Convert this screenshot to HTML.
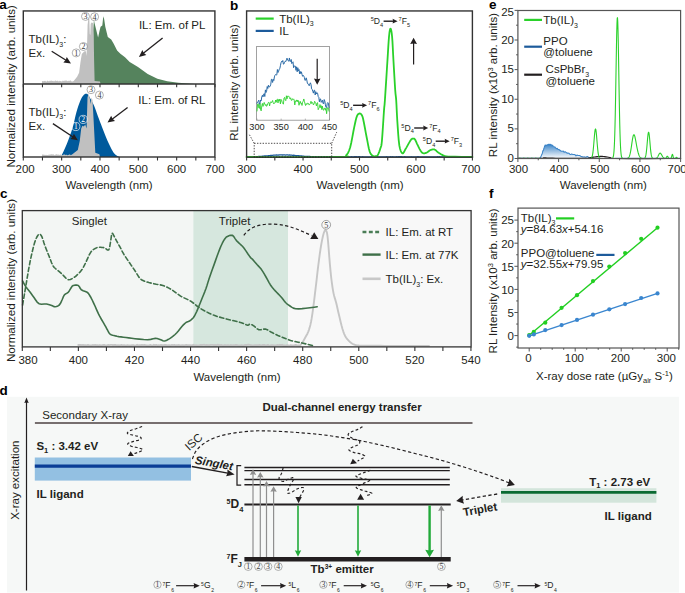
<!DOCTYPE html>
<html><head><meta charset="utf-8"><style>
html,body{margin:0;padding:0;background:#fff;}
body{width:685px;height:593px;overflow:hidden;}
svg{display:block;font-family:"Liberation Sans", sans-serif;}
</style></head><body>
<svg width="685" height="593" viewBox="0 0 685 593">
<polygon points="92.60,84.00 93.20,30.00 93.90,20.50 96.00,29.00 98.10,37.40 99.50,31.00 100.60,26.80 102.30,25.60 103.00,19.00 103.60,16.30 104.30,20.00 105.30,26.80 107.80,37.00 111.20,39.50 113.70,43.70 117.10,50.40 120.40,53.80 125.00,57.20 129.70,61.90 138.00,67.00 147.70,74.00 157.40,78.80 167.20,81.30 178.30,82.70 194.90,83.90 197.00,84.00" fill="#55835d" />
<polygon points="42.00,84.00 42.00,81.31 42.80,80.95 43.60,81.16 44.40,80.88 45.20,80.85 46.00,81.52 46.80,81.58 47.60,80.60 48.40,81.29 49.20,81.32 50.00,80.41 50.80,81.04 51.60,80.60 52.40,81.03 53.20,80.83 54.00,81.42 54.80,80.84 55.60,80.56 56.40,80.97 57.20,80.71 58.00,80.79 58.80,81.52 59.60,80.69 60.40,80.89 61.20,81.24 62.00,81.56 62.80,80.56 63.60,81.03 64.40,80.74 65.20,80.55 66.00,80.74 66.80,80.49 67.60,81.13 68.40,80.64 69.20,81.07 70.00,80.48 70.80,80.55 71.60,81.48 72.40,81.44 73.70,80.90 77.10,76.80 79.10,72.80 80.50,62.00 81.80,53.90 83.20,52.50 84.50,51.20 85.90,51.20 86.50,55.90 87.20,40.00 87.60,25.00 88.40,18.40 89.30,19.00 89.80,34.00 90.30,35.00 90.70,24.00 91.50,22.60 93.00,23.00 93.70,35.00 94.10,60.00 94.60,80.90 100.00,81.50 100.50,84.00" fill="#c0c0c0" />
<polygon points="60.90,157.00 62.01,154.59 63.61,151.13 65.38,147.21 67.00,143.40 68.43,139.80 69.83,136.11 71.16,132.35 72.40,128.50 73.50,124.45 74.48,120.22 75.43,116.09 76.40,112.30 77.43,108.83 78.49,105.57 79.52,102.66 80.50,100.20 81.42,98.28 82.29,96.81 83.12,95.69 83.90,94.80 84.64,94.15 85.34,93.80 85.99,93.67 86.60,93.70 87.07,93.75 87.43,93.90 87.88,94.40 88.60,95.50 89.74,97.42 91.17,99.99 92.67,102.83 94.00,105.60 95.10,108.25 96.08,110.96 97.03,113.68 98.00,116.40 98.99,119.04 99.96,121.63 100.98,124.31 102.10,127.20 103.36,130.45 104.72,133.95 106.12,137.45 107.50,140.70 108.90,143.76 110.34,146.72 111.71,149.38 112.90,151.50 113.83,152.92 114.56,153.80 115.24,154.40 116.00,155.00 116.95,155.65 117.99,156.22 118.94,156.68 119.60,157.00" fill="#005a9c" />
<polygon points="42.00,157.00 42.00,155.08 42.80,154.33 43.60,154.86 44.40,154.67 45.20,155.00 46.00,154.79 46.80,154.91 47.60,154.95 48.40,154.71 49.20,154.72 50.00,154.40 50.80,154.62 51.60,154.37 52.40,154.44 53.20,154.31 54.00,154.63 54.80,155.14 55.60,154.44 56.40,154.34 57.20,154.40 58.00,154.73 58.80,154.59 59.60,155.09 60.40,154.47 61.20,154.73 62.00,155.02 62.80,155.24 63.60,154.45 64.40,154.31 65.20,155.21 66.00,154.50 66.80,154.89 67.60,155.15 68.40,155.01 69.20,154.53 70.00,154.43 70.80,155.26 71.60,154.69 72.40,154.20 77.80,150.10 79.80,140.70 81.20,128.50 82.50,125.80 83.90,126.50 85.20,124.50 86.60,128.50 87.50,97.50 88.60,93.40 89.90,98.80 90.60,104.00 91.50,97.50 92.50,100.00 93.50,118.00 95.30,152.80 99.40,154.20 100.00,157.00" fill="#c0c0c0" />
<rect x="23.30" y="10.95" width="191.60" height="146.05" fill="none" stroke="#333" stroke-width="1.4" />
<line x1="23.30" y1="84.00" x2="214.90" y2="84.00" stroke="#333" stroke-width="1.4" />
<line x1="23.30" y1="84.00" x2="23.30" y2="87.30" stroke="#333" stroke-width="1.1" />
<line x1="23.30" y1="157.00" x2="23.30" y2="160.50" stroke="#333" stroke-width="1.1" />
<line x1="42.47" y1="84.00" x2="42.47" y2="87.30" stroke="#333" stroke-width="1.1" />
<line x1="42.47" y1="157.00" x2="42.47" y2="160.50" stroke="#333" stroke-width="1.1" />
<line x1="61.64" y1="84.00" x2="61.64" y2="87.30" stroke="#333" stroke-width="1.1" />
<line x1="61.64" y1="157.00" x2="61.64" y2="160.50" stroke="#333" stroke-width="1.1" />
<line x1="80.81" y1="84.00" x2="80.81" y2="87.30" stroke="#333" stroke-width="1.1" />
<line x1="80.81" y1="157.00" x2="80.81" y2="160.50" stroke="#333" stroke-width="1.1" />
<line x1="99.98" y1="84.00" x2="99.98" y2="87.30" stroke="#333" stroke-width="1.1" />
<line x1="99.98" y1="157.00" x2="99.98" y2="160.50" stroke="#333" stroke-width="1.1" />
<line x1="119.15" y1="84.00" x2="119.15" y2="87.30" stroke="#333" stroke-width="1.1" />
<line x1="119.15" y1="157.00" x2="119.15" y2="160.50" stroke="#333" stroke-width="1.1" />
<line x1="138.32" y1="84.00" x2="138.32" y2="87.30" stroke="#333" stroke-width="1.1" />
<line x1="138.32" y1="157.00" x2="138.32" y2="160.50" stroke="#333" stroke-width="1.1" />
<line x1="157.49" y1="84.00" x2="157.49" y2="87.30" stroke="#333" stroke-width="1.1" />
<line x1="157.49" y1="157.00" x2="157.49" y2="160.50" stroke="#333" stroke-width="1.1" />
<line x1="176.66" y1="84.00" x2="176.66" y2="87.30" stroke="#333" stroke-width="1.1" />
<line x1="176.66" y1="157.00" x2="176.66" y2="160.50" stroke="#333" stroke-width="1.1" />
<line x1="195.83" y1="84.00" x2="195.83" y2="87.30" stroke="#333" stroke-width="1.1" />
<line x1="195.83" y1="157.00" x2="195.83" y2="160.50" stroke="#333" stroke-width="1.1" />
<line x1="215.00" y1="84.00" x2="215.00" y2="87.30" stroke="#333" stroke-width="1.1" />
<line x1="215.00" y1="157.00" x2="215.00" y2="160.50" stroke="#333" stroke-width="1.1" />
<text x="25.10" y="172.90" font-size="11.5" text-anchor="middle" font-weight="normal" fill="#231f20"  style="">200</text>
<text x="61.64" y="172.90" font-size="11.5" text-anchor="middle" font-weight="normal" fill="#231f20"  style="">300</text>
<text x="99.98" y="172.90" font-size="11.5" text-anchor="middle" font-weight="normal" fill="#231f20"  style="">400</text>
<text x="138.32" y="172.90" font-size="11.5" text-anchor="middle" font-weight="normal" fill="#231f20"  style="">500</text>
<text x="176.66" y="172.90" font-size="11.5" text-anchor="middle" font-weight="normal" fill="#231f20"  style="">600</text>
<text x="215.00" y="172.90" font-size="11.5" text-anchor="middle" font-weight="normal" fill="#231f20"  style="">700</text>
<text x="109.00" y="188.50" font-size="11.5" text-anchor="middle" font-weight="normal" fill="#231f20"  style="">Wavelength (nm)</text>
<text transform="translate(15.20,86.30) rotate(-90)" font-size="11.55" text-anchor="middle" fill="#231f20">Normalized intensity (arb. units)</text>
<text x="-0.70" y="8.50" font-size="13.5" text-anchor="start" font-weight="bold" fill="#000"  style="">a</text>
<circle cx="76.20" cy="52.90" r="4.0" fill="none" stroke="#888" stroke-width="0.65"/>
<text x="76.20" y="55.62" font-size="8.00" text-anchor="middle" fill="#3c3c3c" font-family="Liberation Serif, serif">1</text>
<circle cx="83.40" cy="46.50" r="4.0" fill="none" stroke="#888" stroke-width="0.65"/>
<text x="83.40" y="49.22" font-size="8.00" text-anchor="middle" fill="#3c3c3c" font-family="Liberation Serif, serif">2</text>
<circle cx="85.50" cy="16.40" r="4.0" fill="none" stroke="#888" stroke-width="0.65"/>
<text x="85.50" y="19.12" font-size="8.00" text-anchor="middle" fill="#3c3c3c" font-family="Liberation Serif, serif">3</text>
<circle cx="94.60" cy="16.80" r="4.0" fill="none" stroke="#888" stroke-width="0.65"/>
<text x="94.60" y="19.52" font-size="8.00" text-anchor="middle" fill="#3c3c3c" font-family="Liberation Serif, serif">4</text>
<circle cx="75.80" cy="126.50" r="4.1" fill="none" stroke="#ffffff" stroke-width="0.65"/>
<text x="75.80" y="129.08" font-size="7.58" text-anchor="middle" fill="#ffffff" font-family="Liberation Serif, serif">1</text>
<circle cx="83.20" cy="119.40" r="4.1" fill="none" stroke="#ffffff" stroke-width="0.65"/>
<text x="83.20" y="121.98" font-size="7.58" text-anchor="middle" fill="#ffffff" font-family="Liberation Serif, serif">2</text>
<circle cx="91.00" cy="89.70" r="4.0" fill="none" stroke="#888" stroke-width="0.65"/>
<text x="91.00" y="92.42" font-size="8.00" text-anchor="middle" fill="#3c3c3c" font-family="Liberation Serif, serif">3</text>
<circle cx="99.40" cy="95.10" r="4.0" fill="none" stroke="#888" stroke-width="0.65"/>
<text x="99.40" y="97.82" font-size="8.00" text-anchor="middle" fill="#3c3c3c" font-family="Liberation Serif, serif">4</text>
<text x="28.60" y="42.90" font-size="11.5" text-anchor="start" font-weight="normal" fill="#231f20"  style="">Tb(IL)<tspan font-size="7" dy="3.6">3</tspan><tspan dy="-3.6">:</tspan></text>
<text x="28.60" y="56.60" font-size="11.5" text-anchor="start" font-weight="normal" fill="#231f20"  style="">Ex.</text>
<line x1="51.70" y1="51.30" x2="66.85" y2="60.80" stroke="#231f20" stroke-width="1.3" />
<polygon points="71.00,63.40 63.37,62.39 65.66,60.05 66.77,56.97" fill="#231f20"/>
<text x="138.90" y="29.10" font-size="11.5" text-anchor="start" font-weight="normal" fill="#231f20"  style="">IL: Em. of PL</text>
<line x1="162.60" y1="38.00" x2="142.73" y2="53.84" stroke="#231f20" stroke-width="1.3" />
<polygon points="138.90,56.90 142.38,50.03 143.83,52.97 146.37,55.04" fill="#231f20"/>
<text x="28.60" y="115.80" font-size="11.5" text-anchor="start" font-weight="normal" fill="#231f20"  style="">Tb(IL)<tspan font-size="7" dy="3.6">3</tspan><tspan dy="-3.6">:</tspan></text>
<text x="28.60" y="129.80" font-size="11.5" text-anchor="start" font-weight="normal" fill="#231f20"  style="">Ex.</text>
<line x1="52.90" y1="123.60" x2="73.83" y2="137.58" stroke="#231f20" stroke-width="1.3" />
<polygon points="77.90,140.30 70.30,139.07 72.66,136.80 73.86,133.75" fill="#231f20"/>
<text x="138.30" y="104.00" font-size="11.5" text-anchor="start" font-weight="normal" fill="#231f20"  style="">IL: Em. of RL</text>
<line x1="127.60" y1="107.50" x2="111.42" y2="119.66" stroke="#231f20" stroke-width="1.3" />
<polygon points="107.50,122.60 111.17,115.84 112.54,118.82 115.02,120.95" fill="#231f20"/>
<polyline points="246.60,157.00 246.60,156.92 247.60,156.71 248.60,156.81 249.60,156.63 250.60,156.58 251.60,156.70 252.60,156.52 253.60,156.70 254.60,156.73 255.60,156.54 256.60,156.67 257.60,156.57 258.60,156.46 259.60,156.34 260.60,156.42 261.60,156.39 262.60,156.07 263.60,156.17 264.60,155.90 265.60,155.83 266.60,155.91 267.60,155.80 268.60,155.69 269.60,155.57 270.60,155.50 271.60,155.42 272.60,155.32 273.60,155.15 274.60,155.20 275.60,155.15 276.60,155.00 277.60,155.09 278.60,155.02 279.60,154.78 280.60,154.88 281.60,154.85 282.60,155.00 283.60,154.88 284.60,154.83 285.60,155.02 286.60,154.87 287.60,154.90 288.60,155.12 289.60,155.01 290.60,155.12 291.60,155.12 292.60,155.29 293.60,155.26 294.60,155.34 295.60,155.64 296.60,155.71 297.60,155.61 298.60,155.61 299.60,155.91 300.60,155.93 301.60,155.97 302.60,156.13 303.60,156.20 304.60,156.28 305.60,156.33 306.60,156.32 307.60,156.47 308.60,156.50 309.60,156.43 310.60,156.70 311.60,156.57 312.60,156.56 313.60,156.72 314.60,156.77 315.60,156.62 316.60,156.81 317.60,156.85 318.60,156.79 319.60,156.72 320.60,156.91 321.60,156.86 322.60,156.86 323.60,156.72 324.60,156.84 325.60,156.72 326.60,156.93 327.60,156.89 328.60,156.79 329.60,156.73 330.60,156.86 331.60,156.93 332.60,156.96 333.60,156.84 334.60,156.94 335.60,156.76 336.60,156.75 337.60,156.94 338.60,156.92 339.60,156.76 340.60,156.81 341.60,156.76 342.60,156.90 343.60,156.96 344.60,156.91 345.60,156.76 346.60,156.92 347.60,156.90 348.60,156.87 349.60,156.87 350.60,156.88 351.60,156.72 352.60,156.95 353.60,157.00 354.60,156.72 355.60,156.74 356.60,156.70 357.60,156.87 358.60,156.71 359.60,156.72 360.60,156.93 361.60,156.78 362.60,156.75 363.60,156.80 364.60,156.84 365.60,156.91 366.60,156.90 367.60,156.93 368.60,156.98 369.60,156.82 370.60,156.91 371.60,156.76 372.60,156.99 373.60,156.73 374.60,156.79 375.60,156.72 376.60,156.73 377.60,156.73 378.60,156.83 379.60,157.00 380.60,156.78 381.60,156.95 382.60,156.91 383.60,156.80 384.60,156.84 385.60,156.88 386.60,156.72 387.60,156.82 388.60,156.90 389.60,156.92 390.60,156.74 391.60,156.86 392.60,156.77 393.60,156.89 394.60,156.94 395.60,156.84 396.60,156.75 397.60,156.95 398.60,156.76 399.60,156.72 400.60,156.76 401.60,156.75 402.60,157.00 403.60,156.81 404.60,156.74 405.60,156.99 406.60,156.92 407.60,156.92 408.60,156.84 409.60,156.87 410.60,156.86 411.60,156.77 412.60,157.00 413.60,156.98 414.60,156.96 415.60,156.96 416.60,156.98 417.60,156.71 418.60,156.74 419.60,156.97 420.60,156.85 421.60,156.91 422.60,156.91 423.60,156.89 424.60,156.81 425.60,156.82 426.60,156.89 427.60,156.94 428.60,156.90 429.60,156.96 430.60,156.83 431.60,156.79 432.60,156.89 433.60,156.98 434.60,156.95 435.60,156.89 436.60,156.82 437.60,156.77 438.60,156.89 439.60,156.76 440.60,156.81 441.60,156.87 442.60,156.89 443.60,156.85 444.60,156.79 445.60,156.87 446.60,156.79 447.60,156.86 448.60,156.93 449.60,156.84 450.60,156.79 451.60,156.98 452.60,156.87 453.60,156.87 454.60,156.74 455.60,156.72 456.60,156.89 457.60,156.73 458.60,156.76 459.60,156.92 460.60,156.86 461.60,156.96 462.60,156.76 463.60,156.80 464.60,156.73 465.60,156.76 466.60,156.80 467.60,156.78 468.60,156.83 469.60,156.97 470.60,156.82 471.60,157.00" fill="none" stroke="#1d5b9b" stroke-width="1.3" stroke-linejoin="round" stroke-linecap="round" />
<polyline points="246.60,157.00 265.43,157.04 292.92,157.10 320.60,157.11 340.00,157.00 347.71,156.87 348.63,156.71 346.76,156.30 346.10,155.40 347.27,154.10 348.28,152.47 349.22,150.26 350.20,147.20 351.26,142.73 352.34,137.16 353.37,131.51 354.30,126.80 355.07,123.23 355.73,120.28 356.35,117.89 357.00,116.00 357.71,114.69 358.43,113.95 359.14,113.61 359.80,113.50 360.41,113.61 360.98,114.02 361.51,114.67 362.00,115.50 362.39,116.31 362.69,117.21 363.03,118.54 363.50,120.70 364.16,124.04 364.96,128.28 365.79,132.81 366.60,137.00 367.35,140.95 368.10,144.89 368.85,148.46 369.60,151.30 370.38,153.21 371.16,154.42 371.94,155.19 372.70,155.80 373.43,156.23 374.15,156.36 374.84,156.31 375.50,156.20 376.10,156.15 376.66,156.06 377.21,155.75 377.80,155.00 378.48,153.66 379.21,151.86 379.91,149.88 380.50,148.00 380.92,146.83 381.24,146.03 381.53,144.50 381.90,141.10 382.40,134.62 382.98,125.96 383.54,117.19 384.00,110.40 384.27,107.08 384.43,105.81 384.59,104.29 384.90,100.20 385.43,92.16 386.11,81.64 386.80,70.69 387.40,61.30 387.87,53.78 388.26,47.13 388.63,41.44 389.00,36.80 389.38,33.22 389.75,30.66 390.12,29.11 390.50,28.60 390.90,29.11 391.31,30.66 391.71,33.22 392.10,36.80 392.46,41.68 392.79,47.77 393.13,54.50 393.50,61.30 393.92,68.61 394.38,76.54 394.82,84.03 395.20,90.00 395.50,93.61 395.74,95.61 395.96,97.36 396.20,100.20 396.45,104.51 396.69,109.56 396.96,115.05 397.30,120.70 397.71,126.93 398.18,133.72 398.70,140.13 399.30,145.20 400.00,148.68 400.79,151.09 401.61,152.60 402.40,153.40 403.13,153.31 403.84,152.31 404.57,150.83 405.40,149.30 406.40,147.62 407.51,145.63 408.60,143.67 409.50,142.10 410.15,141.02 410.65,140.24 411.07,139.66 411.50,139.20 411.94,138.85 412.36,138.66 412.77,138.59 413.20,138.60 413.62,138.61 414.04,138.66 414.48,138.90 415.00,139.50 415.58,140.55 416.21,141.96 416.91,143.56 417.70,145.20 418.63,147.05 419.66,149.12 420.74,151.03 421.80,152.40 422.82,153.09 423.85,153.32 424.88,153.24 425.90,153.00 426.94,152.52 427.98,151.75 429.01,150.93 430.00,150.30 430.96,149.88 431.91,149.56 432.80,149.36 433.60,149.30 434.29,149.43 434.89,149.72 435.44,150.10 436.00,150.50 436.47,150.89 436.87,151.31 437.38,151.80 438.20,152.40 439.46,153.21 441.03,154.17 442.71,155.10 444.30,155.80 445.36,156.19 446.13,156.39 447.41,156.49 450.00,156.60 454.95,156.74 461.56,156.85 467.98,156.94 472.40,157.00" fill="none" stroke="#2ad12a" stroke-width="1.8" stroke-linejoin="round" stroke-linecap="round" />
<rect x="246.60" y="10.95" width="225.80" height="146.25" fill="none" stroke="#333" stroke-width="1.4" />
<line x1="246.60" y1="157.20" x2="246.60" y2="160.60" stroke="#333" stroke-width="1.1" />
<line x1="274.82" y1="157.20" x2="274.82" y2="160.60" stroke="#333" stroke-width="1.1" />
<line x1="303.05" y1="157.20" x2="303.05" y2="160.60" stroke="#333" stroke-width="1.1" />
<line x1="331.27" y1="157.20" x2="331.27" y2="160.60" stroke="#333" stroke-width="1.1" />
<line x1="359.50" y1="157.20" x2="359.50" y2="160.60" stroke="#333" stroke-width="1.1" />
<line x1="387.73" y1="157.20" x2="387.73" y2="160.60" stroke="#333" stroke-width="1.1" />
<line x1="415.95" y1="157.20" x2="415.95" y2="160.60" stroke="#333" stroke-width="1.1" />
<line x1="444.17" y1="157.20" x2="444.17" y2="160.60" stroke="#333" stroke-width="1.1" />
<line x1="472.40" y1="157.20" x2="472.40" y2="160.60" stroke="#333" stroke-width="1.1" />
<text x="246.60" y="173.00" font-size="11.5" text-anchor="middle" font-weight="normal" fill="#231f20"  style="">300</text>
<text x="303.05" y="173.00" font-size="11.5" text-anchor="middle" font-weight="normal" fill="#231f20"  style="">400</text>
<text x="359.50" y="173.00" font-size="11.5" text-anchor="middle" font-weight="normal" fill="#231f20"  style="">500</text>
<text x="415.95" y="173.00" font-size="11.5" text-anchor="middle" font-weight="normal" fill="#231f20"  style="">600</text>
<text x="470.90" y="173.00" font-size="11.5" text-anchor="middle" font-weight="normal" fill="#231f20"  style="">700</text>
<text x="360.00" y="188.50" font-size="11.5" text-anchor="middle" font-weight="normal" fill="#231f20"  style="">Wavelength (nm)</text>
<text transform="translate(238.20,82.45) rotate(-90)" font-size="11.4" text-anchor="middle" fill="#231f20">RL intensity (arb. units)</text>
<text x="230.00" y="9.60" font-size="13.5" text-anchor="start" font-weight="bold" fill="#000"  style="">b</text>
<line x1="255.70" y1="18.60" x2="273.70" y2="18.60" stroke="#2ad12a" stroke-width="2.2" />
<text x="279.20" y="22.70" font-size="11.5" text-anchor="start" font-weight="normal" fill="#231f20"  style="">Tb(IL)<tspan font-size="7" dy="3.6">3</tspan></text>
<line x1="255.70" y1="30.90" x2="273.70" y2="30.90" stroke="#1d5b9b" stroke-width="2.2" />
<text x="279.20" y="35.00" font-size="11.5" text-anchor="start" font-weight="normal" fill="#231f20"  style="">IL</text>
<rect x="256.60" y="46.50" width="72.90" height="73.70" fill="#fff" stroke="#8a8a8a" stroke-width="0.8" />
<polyline points="257.00,111.01 257.60,104.15 258.20,103.58 258.80,107.95 259.40,108.40 260.00,103.21 260.60,109.80 261.20,110.86 261.80,105.67 262.40,103.41 263.00,106.42 263.60,104.31 264.20,102.44 264.80,104.10 265.40,105.48 266.00,104.38 266.60,106.32 267.20,105.35 267.80,103.53 268.40,102.41 269.00,102.53 269.60,105.89 270.20,102.76 270.80,101.76 271.40,102.74 272.00,101.89 272.60,100.51 273.20,102.82 273.80,103.85 274.40,103.11 275.00,102.98 275.60,100.02 276.20,102.28 276.80,99.71 277.40,99.21 278.00,102.94 278.60,99.52 279.20,101.08 279.80,99.02 280.40,103.93 281.00,99.41 281.60,100.02 282.20,102.59 282.80,103.05 283.40,104.18 284.00,98.04 284.60,97.40 285.20,100.00 285.80,100.65 286.40,95.78 287.00,98.90 287.60,96.13 288.20,96.30 288.80,96.17 289.40,97.49 290.00,98.90 290.60,97.75 291.20,100.15 291.80,100.46 292.40,98.68 293.00,99.53 293.60,98.88 294.20,100.09 294.80,104.95 295.40,100.96 296.00,101.51 296.60,99.90 297.20,101.82 297.80,99.99 298.40,101.02 299.00,105.29 299.60,102.99 300.20,101.22 300.80,103.65 301.40,103.10 302.00,105.47 302.60,102.21 303.20,101.19 303.80,98.96 304.40,101.30 305.00,103.86 305.60,105.52 306.20,103.52 306.80,104.50 307.40,103.35 308.00,102.98 308.60,103.88 309.20,105.08 309.80,104.26 310.40,103.48 311.00,101.27 311.60,103.49 312.20,102.35 312.80,103.03 313.40,104.92 314.00,104.02 314.60,101.27 315.20,102.23 315.80,102.87 316.40,105.92 317.00,103.19 317.60,102.66 318.20,109.68 318.80,108.27 319.40,107.57 320.00,104.54 320.60,107.59 321.20,105.70 321.80,109.59 322.40,106.10 323.00,109.67 323.60,110.23 324.20,108.20 324.80,108.37 325.40,110.25 326.00,108.05 326.60,113.73 327.20,109.03 327.80,107.44 328.40,108.10 329.00,111.19" fill="none" stroke="#2fd22f" stroke-width="0.9" stroke-linejoin="round" stroke-linecap="round" />
<polyline points="257.00,103.20 257.60,101.88 258.20,101.53 258.80,100.17 259.40,104.21 260.00,102.99 260.60,100.02 261.20,100.72 261.80,96.79 262.40,95.25 263.00,96.91 263.60,94.21 264.20,93.61 264.80,96.53 265.40,89.88 266.00,92.52 266.60,91.34 267.20,86.55 267.80,88.54 268.40,85.26 269.00,87.10 269.60,86.88 270.20,86.02 270.80,84.21 271.40,79.32 272.00,79.41 272.60,82.46 273.20,79.23 273.80,80.55 274.40,76.91 275.00,75.18 275.60,74.49 276.20,75.08 276.80,74.87 277.40,69.51 278.00,72.51 278.60,71.36 279.20,69.20 279.80,68.74 280.40,65.76 281.00,62.84 281.60,61.33 282.20,61.96 282.80,60.50 283.40,64.15 284.00,63.89 284.60,62.28 285.20,61.24 285.80,61.62 286.40,59.77 287.00,58.17 287.60,59.98 288.20,60.76 288.80,61.25 289.40,57.97 290.00,61.48 290.60,61.34 291.20,59.46 291.80,63.62 292.40,62.52 293.00,61.79 293.60,67.72 294.20,65.92 294.80,66.17 295.40,66.19 296.00,70.35 296.60,66.82 297.20,71.81 297.80,67.73 298.40,70.92 299.00,69.48 299.60,73.84 300.20,71.40 300.80,73.65 301.40,71.80 302.00,74.41 302.60,76.31 303.20,75.31 303.80,76.07 304.40,77.60 305.00,80.51 305.60,80.07 306.20,77.84 306.80,80.05 307.40,83.33 308.00,84.21 308.60,84.17 309.20,85.77 309.80,84.14 310.40,82.80 311.00,84.40 311.60,88.85 312.20,89.46 312.80,91.18 313.40,93.14 314.00,90.40 314.60,90.21 315.20,94.96 315.80,91.69 316.40,93.99 317.00,92.77 317.60,93.26 318.20,96.49 318.80,97.18 319.40,101.84 320.00,99.12 320.60,98.94 321.20,102.33 321.80,101.22 322.40,100.19 323.00,103.20 323.60,103.94 324.20,99.55 324.80,101.07 325.40,104.82 326.00,107.42 326.60,107.46 327.20,103.61 327.80,102.52 328.40,103.15 329.00,107.54" fill="none" stroke="#2a6aa6" stroke-width="1.0" stroke-linejoin="round" stroke-linecap="round" />
<text x="257.00" y="130.00" font-size="9.2" text-anchor="middle" font-weight="normal" fill="#231f20"  style="">300</text>
<line x1="257.00" y1="120.20" x2="257.00" y2="118.60" stroke="#8a8a8a" stroke-width="0.6" />
<text x="281.17" y="130.00" font-size="9.2" text-anchor="middle" font-weight="normal" fill="#231f20"  style="">350</text>
<line x1="281.17" y1="120.20" x2="281.17" y2="118.60" stroke="#8a8a8a" stroke-width="0.6" />
<text x="305.33" y="130.00" font-size="9.2" text-anchor="middle" font-weight="normal" fill="#231f20"  style="">400</text>
<line x1="305.33" y1="120.20" x2="305.33" y2="118.60" stroke="#8a8a8a" stroke-width="0.6" />
<text x="329.50" y="130.00" font-size="9.2" text-anchor="middle" font-weight="normal" fill="#231f20"  style="">450</text>
<line x1="329.50" y1="120.20" x2="329.50" y2="118.60" stroke="#8a8a8a" stroke-width="0.6" />
<line x1="317.20" y1="58.80" x2="317.20" y2="80.46" stroke="#231f20" stroke-width="1.2" />
<polygon points="317.20,84.80 313.90,78.60 317.20,79.22 320.50,78.60" fill="#231f20"/>
<g stroke="#231f20" stroke-width="0.8" stroke-dasharray="1.4,1.4" fill="none">
<rect x="254.2" y="143.3" width="77.5" height="13.7"/>
<line x1="254.2" y1="143.3" x2="249.4" y2="134.7"/><line x1="331.7" y1="143.3" x2="336.7" y2="132.2"/>
</g>
<text x="340.20" y="108.30" font-size="8.6" fill="#231f20"><tspan font-size="5.6" dy="-3.2">5</tspan><tspan dy="3.2">D</tspan><tspan font-size="5.6" dy="2.4">4</tspan></text>
<line x1="353.10" y1="105.30" x2="363.60" y2="105.30" stroke="#231f20" stroke-width="1.4" />
<polygon points="367.10,105.30 362.10,107.70 362.60,105.30 362.10,102.90" fill="#231f20"/>
<text x="368.10" y="108.30" font-size="8.6" fill="#231f20"><tspan font-size="5.6" dy="-3.2">7</tspan><tspan dy="3.2">F</tspan><tspan font-size="5.6" dy="2.4">6</tspan></text>
<text x="370.70" y="24.20" font-size="8.6" fill="#231f20"><tspan font-size="5.6" dy="-3.2">5</tspan><tspan dy="3.2">D</tspan><tspan font-size="5.6" dy="2.4">4</tspan></text>
<line x1="383.60" y1="21.20" x2="394.10" y2="21.20" stroke="#231f20" stroke-width="1.4" />
<polygon points="397.60,21.20 392.60,23.60 393.10,21.20 392.60,18.80" fill="#231f20"/>
<text x="398.60" y="24.20" font-size="8.6" fill="#231f20"><tspan font-size="5.6" dy="-3.2">7</tspan><tspan dy="3.2">F</tspan><tspan font-size="5.6" dy="2.4">5</tspan></text>
<text x="401.30" y="131.00" font-size="8.6" fill="#231f20"><tspan font-size="5.6" dy="-3.2">5</tspan><tspan dy="3.2">D</tspan><tspan font-size="5.6" dy="2.4">4</tspan></text>
<line x1="414.20" y1="128.00" x2="424.70" y2="128.00" stroke="#231f20" stroke-width="1.4" />
<polygon points="428.20,128.00 423.20,130.40 423.70,128.00 423.20,125.60" fill="#231f20"/>
<text x="429.20" y="131.00" font-size="8.6" fill="#231f20"><tspan font-size="5.6" dy="-3.2">7</tspan><tspan dy="3.2">F</tspan><tspan font-size="5.6" dy="2.4">4</tspan></text>
<text x="422.80" y="144.20" font-size="8.6" fill="#231f20"><tspan font-size="5.6" dy="-3.2">5</tspan><tspan dy="3.2">D</tspan><tspan font-size="5.6" dy="2.4">4</tspan></text>
<line x1="435.70" y1="141.20" x2="446.20" y2="141.20" stroke="#231f20" stroke-width="1.4" />
<polygon points="449.70,141.20 444.70,143.60 445.20,141.20 444.70,138.80" fill="#231f20"/>
<text x="450.70" y="144.20" font-size="8.6" fill="#231f20"><tspan font-size="5.6" dy="-3.2">7</tspan><tspan dy="3.2">F</tspan><tspan font-size="5.6" dy="2.4">3</tspan></text>
<line x1="413.60" y1="64.40" x2="413.60" y2="42.14" stroke="#231f20" stroke-width="1.2" />
<polygon points="413.60,37.80 417.00,44.00 413.60,43.38 410.20,44.00" fill="#231f20"/>
<rect x="22.30" y="210.60" width="171.00" height="136.30" fill="#f3f6f4" stroke="none" stroke-width="1" />
<rect x="193.30" y="210.60" width="94.70" height="136.30" fill="#d6e7de" stroke="none" stroke-width="1" />
<rect x="288.00" y="210.60" width="183.00" height="136.30" fill="#f8f8f8" stroke="none" stroke-width="1" />
<polyline points="78.30,345.01 79.50,345.01 80.70,344.93 81.90,345.16 83.10,344.86 84.30,345.31 85.50,345.27 86.70,345.42 87.90,344.98 89.10,345.22 90.30,345.38 91.50,345.46 92.70,345.02 93.90,345.12 95.10,345.03 96.30,345.29 97.50,345.21 98.70,345.48 99.90,345.03 101.10,345.58 102.30,345.23 103.50,344.99 104.70,345.06 105.90,345.52 107.10,345.41 108.30,344.93 109.50,345.09 110.70,344.90 111.90,344.90 113.10,345.24 114.30,344.88 115.50,345.01 116.70,345.33 117.90,345.30 119.10,345.54 120.30,345.28 121.50,344.84 122.70,345.52 123.90,345.14 125.10,345.51 126.30,345.54 127.50,345.08 128.70,345.41 129.90,345.56 131.10,345.48 132.30,345.08 133.50,345.13 134.70,345.59 135.90,345.42 137.10,344.83 138.30,345.42 139.50,345.15 140.70,345.26 141.90,344.98 143.10,345.12 144.30,344.97 145.50,345.17 146.70,345.45 147.90,345.46 149.10,345.54 150.30,344.94 151.50,345.51 152.70,345.58 153.90,344.83 155.10,345.44 156.30,344.89 157.50,345.53 158.70,345.23 159.90,345.42 161.10,344.94 162.30,345.11 163.50,345.09 164.70,344.99 165.90,344.90 167.10,345.32 168.30,345.12 169.50,345.24 170.70,345.51 171.90,344.93 173.10,345.12 174.30,344.95 175.50,345.44 176.70,345.17 177.90,345.23 179.10,345.02 180.30,345.54 181.50,345.32 182.70,345.21 183.90,345.54 185.10,345.16 186.30,345.01 187.50,345.26 188.70,345.08 189.90,345.12 191.10,345.43 192.30,345.32 193.50,344.80 194.70,345.33 195.90,345.26 197.10,345.53 198.30,345.43 199.50,345.47 200.70,344.86 201.90,345.02 203.10,344.90 204.30,344.81 205.50,345.11 206.70,344.85 207.90,345.17 209.10,345.27 210.30,344.84 211.50,344.88 212.70,344.84 213.90,345.21 215.10,344.98 216.30,345.27 217.50,344.80 218.70,344.86 219.90,345.37 221.10,344.85 222.30,345.45 223.50,345.52 224.70,345.02 225.90,345.36 227.10,345.18 228.30,345.09 229.50,345.57 230.70,345.00 231.90,345.38 233.10,345.25 234.30,345.32 235.50,345.01 236.70,345.00 237.90,345.37 239.10,345.52 240.30,345.36 241.50,345.27 242.70,345.54 243.90,345.48 245.10,344.99 246.30,345.04 247.50,344.82 248.70,344.82 249.90,344.90 251.10,345.30 252.30,345.47 253.50,345.35 254.70,345.23 255.90,345.18 257.10,345.17 258.30,345.31 259.50,344.92 260.70,345.37 261.90,345.23 263.10,344.89 264.30,344.95 265.50,345.36 266.70,345.41 267.90,344.95 269.10,345.59 270.30,345.49 271.50,345.18 272.70,345.17 273.90,345.47 275.10,345.56 276.30,345.44 277.50,344.98 278.70,345.23 279.90,344.82 281.10,344.97 282.30,344.82 283.50,345.57 284.70,345.45 285.90,345.59 287.10,345.25 288.30,345.33 289.50,345.56 290.70,345.16 291.90,345.52 293.10,345.35 294.30,345.40 295.50,344.96 296.70,345.27 297.90,345.39 299.10,345.56 300.00,345.60 300.34,345.19 300.81,344.61 301.38,343.88 302.00,343.00 302.67,341.95 303.42,340.74 304.21,339.40 305.00,338.00 305.82,336.57 306.67,335.09 307.51,333.46 308.30,331.60 309.02,329.57 309.71,327.38 310.36,324.90 311.00,322.00 311.62,318.64 312.21,314.88 312.79,310.76 313.40,306.30 314.04,301.35 314.70,295.95 315.36,290.40 316.00,285.00 316.61,279.77 317.20,274.57 317.79,269.47 318.40,264.50 319.04,259.58 319.69,254.72 320.35,250.12 321.00,246.00 321.64,242.35 322.29,239.08 322.91,236.26 323.50,234.00 324.04,232.27 324.53,231.04 325.01,230.37 325.50,230.30 325.99,230.56 326.48,231.22 326.98,232.84 327.50,236.00 328.07,241.53 328.67,248.91 329.26,256.63 329.80,263.20 330.26,268.21 330.66,272.45 331.06,276.27 331.50,280.00 331.99,283.74 332.50,287.29 333.04,290.61 333.60,293.60 334.19,296.07 334.80,298.12 335.44,300.13 336.10,302.50 336.78,305.34 337.49,308.43 338.22,311.69 339.00,315.00 339.83,318.52 340.71,322.25 341.61,325.85 342.50,329.00 343.33,331.58 344.14,333.78 345.00,335.71 346.00,337.50 347.24,339.17 348.64,340.67 350.05,341.96 351.30,343.00 352.33,343.74 353.23,344.20 354.09,344.51 355.00,344.80 355.58,345.06 355.92,345.24 356.80,345.38 359.00,345.50 363.08,345.61 368.50,345.69 374.42,345.75 380.00,345.80 384.86,345.84 389.50,345.87 394.39,345.89 400.00,345.90 407.30,345.91 415.75,345.91 423.58,345.90 429.00,345.90" fill="none" stroke="#c6c6c6" stroke-width="1.9" stroke-linejoin="round" stroke-linecap="round" />
<polyline points="22.60,305.00 23.46,299.93 24.70,292.63 26.00,285.00 27.27,277.41 28.61,269.48 30.00,262.00 31.52,254.93 33.09,248.30 34.50,243.00 35.64,239.59 36.62,237.51 37.50,236.00 38.26,234.81 38.91,234.19 39.60,234.10 40.36,234.49 41.14,235.40 42.00,237.00 42.92,239.51 43.90,242.70 45.00,246.00 46.26,249.27 47.63,252.64 49.00,256.00 50.34,259.50 51.68,262.99 53.00,265.80 54.23,267.49 55.44,268.51 56.80,269.60 58.39,270.97 60.14,272.41 62.00,274.00 63.99,276.11 66.09,278.36 68.20,279.70 70.40,279.50 72.60,278.39 74.50,277.20 75.86,276.23 76.90,275.18 78.00,274.00 79.30,272.74 80.65,271.35 82.00,269.60 83.30,267.40 84.59,264.84 86.00,262.00 87.54,258.57 89.20,254.86 91.00,251.80 93.06,249.77 95.27,248.40 97.30,247.50 99.05,247.16 100.63,247.30 102.00,247.50 103.07,247.57 103.93,247.70 104.90,248.00 106.17,248.93 107.55,250.02 108.70,250.00 109.46,248.10 110.00,245.08 110.50,242.00 111.00,238.76 111.47,235.46 112.00,233.40 112.62,233.37 113.29,234.59 114.00,236.00 114.69,237.25 115.42,238.70 116.30,240.40 117.42,242.41 118.70,244.66 120.00,247.00 121.24,249.40 122.50,251.89 123.90,254.40 125.48,256.87 127.19,259.37 129.00,262.00 130.92,264.84 132.94,267.81 135.00,270.80 136.92,273.95 138.88,277.11 141.40,279.70 144.88,281.41 148.91,282.56 152.80,283.50 156.31,284.21 159.67,284.73 162.90,285.50 165.96,286.69 168.89,288.13 171.80,289.80 174.69,291.80 177.57,294.01 180.60,296.10 183.90,297.80 187.36,299.36 190.80,301.20 194.08,303.60 197.35,306.27 200.90,308.80 204.91,311.09 209.20,313.23 213.50,315.10 217.63,316.55 221.78,317.73 226.20,318.90 231.41,320.21 236.90,321.52 241.40,322.70 244.31,323.80 246.23,324.77 247.70,325.30 248.70,325.03 249.26,324.33 250.00,324.00 251.17,324.36 252.54,325.08 254.00,326.00 255.51,327.30 257.12,328.81 258.90,329.80 260.95,329.73 263.16,329.16 265.30,329.00 267.21,329.70 269.04,330.83 271.00,332.00 273.00,333.04 275.13,334.13 277.90,335.40 281.75,337.04 286.25,338.85 290.60,340.40 294.45,341.43 298.16,342.19 302.00,343.00 306.58,344.08 311.29,345.21 314.60,346.00" fill="none" stroke="#3f7049" stroke-width="1.6" stroke-linejoin="round" stroke-linecap="round" stroke-dasharray="4.2,2.6" stroke-linecap="butt"/>
<polyline points="22.60,281.00 23.45,282.58 24.68,284.83 26.00,287.00 27.36,288.82 28.80,290.57 30.20,292.30 31.45,294.00 32.66,295.70 34.00,297.50 35.48,299.71 37.10,302.03 39.00,303.70 41.43,304.19 44.16,304.03 46.60,304.00 48.55,304.42 50.23,304.97 51.70,305.50 52.90,306.06 53.89,306.60 55.00,306.80 56.42,306.55 57.95,305.95 59.30,305.00 60.33,303.57 61.18,301.79 62.00,300.00 62.77,298.21 63.51,296.42 64.40,294.90 65.60,293.91 66.96,293.20 68.20,292.30 69.23,290.93 70.15,289.36 71.00,288.00 71.67,286.94 72.27,286.08 73.20,285.50 74.76,285.16 76.65,285.09 78.30,285.50 79.35,286.68 80.16,288.34 81.30,289.80 83.17,290.72 85.36,291.44 87.20,292.30 88.39,293.43 89.23,294.70 90.00,296.00 90.76,297.24 91.44,298.51 92.20,300.00 93.06,301.78 93.99,303.79 95.00,306.00 96.13,308.58 97.34,311.37 98.50,313.90 99.52,315.93 100.49,317.70 101.50,319.50 102.63,321.46 103.81,323.44 104.90,325.30 105.83,326.97 106.67,328.52 107.50,330.00 108.29,331.51 109.06,332.96 110.00,334.10 111.19,334.78 112.55,335.16 114.00,335.50 115.45,335.90 116.99,336.26 118.80,336.60 120.96,336.90 123.38,337.19 126.00,337.50 128.73,337.89 131.66,338.30 135.00,338.70 139.15,339.13 143.71,339.54 147.70,339.70 150.72,339.35 153.17,338.74 155.30,338.40 157.10,338.57 158.58,339.01 160.00,339.50 161.45,340.08 162.85,340.71 164.20,341.00 165.50,340.75 166.75,340.17 168.00,339.50 169.22,338.87 170.44,338.15 171.80,337.20 173.37,335.96 175.08,334.49 176.80,332.80 178.53,330.76 180.27,328.50 181.90,326.50 183.36,324.90 184.71,323.56 186.00,322.50 187.20,321.88 188.33,321.54 189.50,321.00 190.79,320.09 192.10,318.97 193.30,317.70 194.29,316.27 195.16,314.68 196.00,313.00 196.78,311.36 197.52,309.62 198.40,307.50 199.50,304.80 200.73,301.70 202.00,298.50 203.34,295.22 204.73,291.83 206.00,288.50 207.06,285.29 208.01,282.14 209.00,279.00 210.01,276.03 211.06,273.07 212.30,269.60 213.89,265.11 215.67,260.11 217.30,255.60 218.62,251.99 219.80,248.87 221.00,246.00 222.31,243.22 223.65,240.69 224.90,238.70 225.94,237.45 226.89,236.73 228.00,236.20 229.42,235.59 231.00,235.17 232.50,235.40 233.82,236.69 235.07,238.62 236.30,240.40 237.53,241.69 238.76,242.82 240.00,244.00 241.20,245.12 242.43,246.29 243.90,248.00 245.90,250.84 248.14,254.23 250.00,256.90 251.06,258.11 251.73,258.61 252.60,259.40 253.93,260.91 255.46,262.70 257.00,264.50 258.49,266.11 260.00,267.73 261.50,269.60 263.01,271.89 264.51,274.43 266.00,277.00 267.47,279.65 268.92,282.34 270.30,284.70 271.57,286.54 272.77,288.06 274.00,289.50 275.28,290.91 276.58,292.24 277.90,293.60 279.27,295.04 280.67,296.51 282.00,298.00 283.17,299.53 284.28,301.07 285.50,302.50 286.89,303.77 288.38,304.92 290.00,306.00 291.61,307.11 293.35,308.14 295.60,308.80 298.61,308.91 302.14,308.66 305.80,308.30 309.93,307.82 314.20,307.23 317.20,306.80" fill="none" stroke="#3f7049" stroke-width="1.6" stroke-linejoin="round" stroke-linecap="round" />
<rect x="22.30" y="210.60" width="448.80" height="136.30" fill="none" stroke="#333" stroke-width="1.3" />
<line x1="22.30" y1="346.90" x2="22.30" y2="351.00" stroke="#333" stroke-width="1.1" />
<line x1="50.34" y1="346.90" x2="50.34" y2="351.00" stroke="#333" stroke-width="1.1" />
<line x1="78.38" y1="346.90" x2="78.38" y2="351.00" stroke="#333" stroke-width="1.1" />
<line x1="106.42" y1="346.90" x2="106.42" y2="351.00" stroke="#333" stroke-width="1.1" />
<line x1="134.46" y1="346.90" x2="134.46" y2="351.00" stroke="#333" stroke-width="1.1" />
<line x1="162.50" y1="346.90" x2="162.50" y2="351.00" stroke="#333" stroke-width="1.1" />
<line x1="190.54" y1="346.90" x2="190.54" y2="351.00" stroke="#333" stroke-width="1.1" />
<line x1="218.58" y1="346.90" x2="218.58" y2="351.00" stroke="#333" stroke-width="1.1" />
<line x1="246.62" y1="346.90" x2="246.62" y2="351.00" stroke="#333" stroke-width="1.1" />
<line x1="274.66" y1="346.90" x2="274.66" y2="351.00" stroke="#333" stroke-width="1.1" />
<line x1="302.70" y1="346.90" x2="302.70" y2="351.00" stroke="#333" stroke-width="1.1" />
<line x1="330.74" y1="346.90" x2="330.74" y2="351.00" stroke="#333" stroke-width="1.1" />
<line x1="358.78" y1="346.90" x2="358.78" y2="351.00" stroke="#333" stroke-width="1.1" />
<line x1="386.82" y1="346.90" x2="386.82" y2="351.00" stroke="#333" stroke-width="1.1" />
<line x1="414.86" y1="346.90" x2="414.86" y2="351.00" stroke="#333" stroke-width="1.1" />
<line x1="442.90" y1="346.90" x2="442.90" y2="351.00" stroke="#333" stroke-width="1.1" />
<line x1="470.94" y1="346.90" x2="470.94" y2="351.00" stroke="#333" stroke-width="1.1" />
<text x="28.00" y="364.00" font-size="11.5" text-anchor="middle" font-weight="normal" fill="#231f20"  style="">380</text>
<text x="78.38" y="364.00" font-size="11.5" text-anchor="middle" font-weight="normal" fill="#231f20"  style="">400</text>
<text x="134.46" y="364.00" font-size="11.5" text-anchor="middle" font-weight="normal" fill="#231f20"  style="">420</text>
<text x="190.54" y="364.00" font-size="11.5" text-anchor="middle" font-weight="normal" fill="#231f20"  style="">440</text>
<text x="246.62" y="364.00" font-size="11.5" text-anchor="middle" font-weight="normal" fill="#231f20"  style="">460</text>
<text x="302.70" y="364.00" font-size="11.5" text-anchor="middle" font-weight="normal" fill="#231f20"  style="">480</text>
<text x="358.78" y="364.00" font-size="11.5" text-anchor="middle" font-weight="normal" fill="#231f20"  style="">500</text>
<text x="414.86" y="364.00" font-size="11.5" text-anchor="middle" font-weight="normal" fill="#231f20"  style="">520</text>
<text x="470.94" y="364.00" font-size="11.5" text-anchor="middle" font-weight="normal" fill="#231f20"  style="">540</text>
<text x="237.00" y="381.20" font-size="11.5" text-anchor="middle" font-weight="normal" fill="#231f20"  style="">Wavelength (nm)</text>
<text transform="translate(15.10,280.50) rotate(-90)" font-size="11.6" text-anchor="middle" fill="#231f20">Normalized intensity (arb. units)</text>
<text x="0.00" y="197.50" font-size="13.5" text-anchor="start" font-weight="bold" fill="#000"  style="">c</text>
<text x="89.35" y="225.10" font-size="11.5" text-anchor="middle" font-weight="normal" fill="#231f20"  style="">Singlet</text>
<text x="218.80" y="224.80" font-size="11.5" text-anchor="start" font-weight="normal" fill="#231f20"  style="">Triplet</text>
<line x1="362.50" y1="232.00" x2="380.60" y2="232.00" stroke="#4a7d56" stroke-width="2.4" stroke-dasharray="3.9,2.45"/>
<text x="385.60" y="236.10" font-size="11.5" text-anchor="start" font-weight="normal" fill="#231f20"  style="">IL: Em. at RT</text>
<line x1="362.50" y1="254.60" x2="380.60" y2="254.60" stroke="#3f7049" stroke-width="2.4" />
<text x="385.60" y="258.70" font-size="11.5" text-anchor="start" font-weight="normal" fill="#231f20"  style="">IL: Em. at 77K</text>
<line x1="362.50" y1="278.80" x2="380.60" y2="278.80" stroke="#c8c8c8" stroke-width="2.6" />
<text x="385.60" y="282.90" font-size="11.5" text-anchor="start" font-weight="normal" fill="#231f20"  style="">Tb(IL)<tspan font-size="7" dy="3.6">3</tspan><tspan dy="-3.6">: Ex.</tspan></text>
<circle cx="326.20" cy="224.80" r="4.4" fill="none" stroke="#777" stroke-width="0.65"/>
<text x="326.20" y="227.57" font-size="8.14" text-anchor="middle" fill="#3c3c3c" font-family="Liberation Serif, serif">5</text>
<path d="M243.8,235.4 C250,226 262,223.5 274,224.2 C290,225 300,230.5 311.5,235.5" fill="none" stroke="#231f20" stroke-width="1.2" stroke-dasharray="3.2,2.4"/>
<polygon points="314.2,232.3 310.2,239 318.4,239" fill="#231f20"/>
<defs><linearGradient id="bg" x1="0" y1="0" x2="0" y2="1"><stop offset="0" stop-color="#3d85c8"/><stop offset="1" stop-color="#ffffff"/></linearGradient></defs>
<polygon points="540.20,158.50 540.39,157.98 540.66,157.27 540.97,156.36 541.31,155.65 541.67,154.73 542.04,154.02 542.38,152.98 542.70,151.52 542.99,150.60 543.27,150.46 543.55,149.67 543.83,148.55 544.10,148.15 544.36,147.15 544.63,146.25 544.90,145.64 545.17,145.11 545.43,145.56 545.69,145.69 545.94,145.62 546.20,145.09 546.46,145.28 546.73,145.54 547.00,145.35 547.28,145.02 547.57,144.73 547.87,144.76 548.18,144.31 548.47,144.26 548.76,144.76 549.04,145.06 549.30,144.55 549.54,144.39 549.76,144.33 549.97,144.46 550.17,144.88 550.37,144.53 550.57,145.15 550.78,144.33 551.00,144.60 551.21,144.91 551.39,144.88 551.56,145.46 551.74,145.55 551.96,145.81 552.23,145.63 552.57,145.21 553.00,146.08 553.53,146.39 554.15,146.73 554.83,146.96 555.57,147.92 556.35,148.65 557.16,148.26 557.98,149.35 558.80,149.46 559.64,150.02 560.52,150.83 561.43,151.28 562.36,151.30 563.30,151.16 564.24,152.30 565.18,151.83 566.10,152.37 567.01,153.17 567.93,152.91 568.84,153.16 569.75,154.18 570.66,154.45 571.58,154.01 572.49,154.35 573.40,154.46 574.29,154.52 575.16,154.85 576.01,155.85 576.87,155.04 577.75,155.38 578.67,155.52 579.65,155.56 580.70,156.23 581.86,156.65 583.14,156.95 584.49,156.91 585.88,157.31 587.25,156.59 588.57,157.31 589.80,157.46 590.90,157.60 591.88,157.72 592.79,157.81 593.62,157.90 594.40,157.97 595.12,158.03 595.79,158.09 596.41,158.14 597.00,158.20 597.54,158.25 598.04,158.30 598.48,158.35 598.88,158.39 599.23,158.42 599.53,158.45 599.79,158.48 600.00,158.50" fill="url(#bg)" transform="translate(0,0)"/>
<polyline points="540.20,158.50 540.39,157.98 540.66,157.27 540.97,156.36 541.31,155.65 541.67,154.73 542.04,154.02 542.38,152.98 542.70,151.52 542.99,150.60 543.27,150.46 543.55,149.67 543.83,148.55 544.10,148.15 544.36,147.15 544.63,146.25 544.90,145.64 545.17,145.11 545.43,145.56 545.69,145.69 545.94,145.62 546.20,145.09 546.46,145.28 546.73,145.54 547.00,145.35 547.28,145.02 547.57,144.73 547.87,144.76 548.18,144.31 548.47,144.26 548.76,144.76 549.04,145.06 549.30,144.55 549.54,144.39 549.76,144.33 549.97,144.46 550.17,144.88 550.37,144.53 550.57,145.15 550.78,144.33 551.00,144.60 551.21,144.91 551.39,144.88 551.56,145.46 551.74,145.55 551.96,145.81 552.23,145.63 552.57,145.21 553.00,146.08 553.53,146.39 554.15,146.73 554.83,146.96 555.57,147.92 556.35,148.65 557.16,148.26 557.98,149.35 558.80,149.46 559.64,150.02 560.52,150.83 561.43,151.28 562.36,151.30 563.30,151.16 564.24,152.30 565.18,151.83 566.10,152.37 567.01,153.17 567.93,152.91 568.84,153.16 569.75,154.18 570.66,154.45 571.58,154.01 572.49,154.35 573.40,154.46 574.29,154.52 575.16,154.85 576.01,155.85 576.87,155.04 577.75,155.38 578.67,155.52 579.65,155.56 580.70,156.23 581.86,156.65 583.14,156.95 584.49,156.91 585.88,157.31 587.25,156.59 588.57,157.31 589.80,157.46 590.90,157.60 591.88,157.72 592.79,157.81 593.62,157.90 594.40,157.97 595.12,158.03 595.79,158.09 596.41,158.14 597.00,158.20 597.54,158.25 598.04,158.30 598.48,158.35 598.88,158.39 599.23,158.42 599.53,158.45 599.79,158.48 600.00,158.50" fill="none" stroke="#3d85c8" stroke-width="1.1" stroke-linejoin="round" stroke-linecap="round" />
<polygon points="592.00,157.40 593.33,157.20 595.21,156.93 597.00,156.70 598.40,156.54 599.71,156.43 601.10,156.40 602.67,156.46 604.33,156.60 606.00,156.80 607.70,157.10 609.40,157.47 611.00,157.80 612.56,158.08 614.00,158.33 615.00,158.50 615.30,158.55 615.15,158.53 615.00,158.50 590.00,158.50" fill="#e6e6e6" />
<polyline points="517.90,158.40 522.30,158.41 528.70,158.44 535.23,158.44 540.00,158.40 542.27,158.27 543.13,158.09 543.42,157.91 544.00,157.80 544.81,157.79 545.50,157.84 546.44,157.92 548.00,158.00 550.13,158.10 552.69,158.22 555.90,158.33 560.00,158.40 565.76,158.43 572.81,158.43 579.71,158.39 585.00,158.30 588.06,158.13 589.75,157.89 590.81,157.63 592.00,157.40 593.41,157.20 594.68,157.01 595.86,156.84 597.00,156.70 598.07,156.58 599.06,156.48 600.04,156.42 601.10,156.40 602.27,156.44 603.49,156.52 604.75,156.64 606.00,156.80 607.27,157.01 608.56,157.28 609.82,157.56 611.00,157.80 610.63,158.01 609.21,158.21 609.69,158.38 615.00,158.50 628.61,158.55 648.05,158.54 667.37,158.52 680.60,158.50" fill="none" stroke="#231f20" stroke-width="1.2" stroke-linejoin="round" stroke-linecap="round" />
<polyline points="615.00,158.30 680.60,158.30" fill="none" stroke="#3d85c8" stroke-width="0.9" stroke-linejoin="round" stroke-linecap="round" />
<polyline points="518.50,158.30 540.20,158.30" fill="none" stroke="#3d85c8" stroke-width="0.9" stroke-linejoin="round" stroke-linecap="round" />
<polyline points="540.00,158.50 540.25,158.50 540.50,158.50 540.75,158.50 541.00,158.50 541.25,158.50 541.50,158.50 541.75,158.50 542.00,158.50 542.25,158.50 542.50,158.50 542.75,158.50 543.00,158.50 543.25,158.50 543.50,158.50 543.75,158.50 544.00,158.50 544.25,158.50 544.50,158.50 544.75,158.50 545.00,158.50 545.25,158.50 545.50,158.50 545.75,158.50 546.00,158.50 546.25,158.50 546.50,158.50 546.75,158.50 547.00,158.50 547.25,158.50 547.50,158.50 547.75,158.50 548.00,158.50 548.25,158.50 548.50,158.50 548.75,158.50 549.00,158.50 549.25,158.50 549.50,158.50 549.75,158.50 550.00,158.50 550.25,158.50 550.50,158.50 550.75,158.50 551.00,158.50 551.25,158.50 551.50,158.50 551.75,158.50 552.00,158.50 552.25,158.50 552.50,158.50 552.75,158.50 553.00,158.50 553.25,158.50 553.50,158.50 553.75,158.50 554.00,158.50 554.25,158.50 554.50,158.50 554.75,158.50 555.00,158.50 555.25,158.50 555.50,158.50 555.75,158.50 556.00,158.50 556.25,158.50 556.50,158.50 556.75,158.50 557.00,158.50 557.25,158.50 557.50,158.50 557.75,158.50 558.00,158.50 558.25,158.50 558.50,158.50 558.75,158.50 559.00,158.50 559.25,158.50 559.50,158.50 559.75,158.50 560.00,158.50 560.25,158.50 560.50,158.50 560.75,158.50 561.00,158.50 561.25,158.50 561.50,158.50 561.75,158.50 562.00,158.50 562.25,158.50 562.50,158.50 562.75,158.50 563.00,158.50 563.25,158.50 563.50,158.50 563.75,158.50 564.00,158.50 564.25,158.50 564.50,158.50 564.75,158.50 565.00,158.50 565.25,158.50 565.50,158.50 565.75,158.50 566.00,158.50 566.25,158.50 566.50,158.50 566.75,158.50 567.00,158.50 567.25,158.50 567.50,158.50 567.75,158.50 568.00,158.50 568.25,158.50 568.50,158.50 568.75,158.50 569.00,158.50 569.25,158.50 569.50,158.50 569.75,158.50 570.00,158.50 570.25,158.50 570.50,158.50 570.75,158.50 571.00,158.50 571.25,158.50 571.50,158.50 571.75,158.50 572.00,158.50 572.25,158.50 572.50,158.50 572.75,158.50 573.00,158.50 573.25,158.50 573.50,158.50 573.75,158.50 574.00,158.50 574.25,158.50 574.50,158.50 574.75,158.50 575.00,158.50 575.25,158.50 575.50,158.50 575.75,158.50 576.00,158.50 576.25,158.50 576.50,158.50 576.75,158.50 577.00,158.50 577.25,158.50 577.50,158.50 577.75,158.50 578.00,158.50 578.25,158.50 578.50,158.50 578.75,158.50 579.00,158.50 579.25,158.50 579.50,158.50 579.75,158.50 580.00,158.50 580.25,158.50 580.50,158.50 580.75,158.50 581.00,158.50 581.25,158.50 581.50,158.50 581.75,158.50 582.00,158.50 582.25,158.50 582.50,158.50 582.75,158.50 583.00,158.50 583.25,158.50 583.50,158.50 583.75,158.50 584.00,158.50 584.25,158.50 584.50,158.50 584.75,158.50 585.00,158.50 585.25,158.50 585.50,158.50 585.75,158.50 586.00,158.50 586.25,158.50 586.50,158.50 586.75,158.50 587.00,158.50 587.25,158.50 587.50,158.50 587.75,158.50 588.00,158.50 588.25,158.50 588.50,158.50 588.75,158.50 589.00,158.50 589.25,158.50 589.50,158.49 589.75,158.49 590.00,158.48 590.25,158.46 590.50,158.42 590.75,158.36 591.00,158.26 591.25,158.10 591.50,157.84 591.75,157.46 592.00,156.89 592.25,156.10 592.50,155.02 592.75,153.60 593.00,151.80 593.25,149.62 593.50,147.07 593.75,144.21 594.00,141.17 594.25,138.09 594.50,135.16 594.75,132.61 595.00,130.61 595.25,129.34 595.50,128.90 595.75,129.34 596.00,130.61 596.25,132.61 596.50,135.16 596.75,138.09 597.00,141.17 597.25,144.21 597.50,147.07 597.75,149.62 598.00,151.80 598.25,153.60 598.50,155.02 598.75,156.10 599.00,156.89 599.25,157.46 599.50,157.84 599.75,158.10 600.00,158.26 600.25,158.36 600.50,158.42 600.75,158.46 601.00,158.48 601.25,158.49 601.50,158.49 601.75,158.50 602.00,158.50 602.25,158.50 602.50,158.50 602.75,158.50 603.00,158.50 603.25,158.50 603.50,158.50 603.75,158.50 604.00,158.50 604.25,158.50 604.50,158.50 604.75,158.50 605.00,158.50 605.25,158.50 605.50,158.50 605.75,158.50 606.00,158.50 606.25,158.50 606.50,158.50 606.75,158.50 607.00,158.50 607.25,158.50 607.50,158.50 607.75,158.50 608.00,158.50 608.25,158.50 608.50,158.50 608.75,158.50 609.00,158.50 609.25,158.50 609.50,158.50 609.75,158.50 610.00,158.50 610.25,158.50 610.50,158.50 610.75,158.50 611.00,158.50 611.25,158.49 611.50,158.48 611.75,158.46 612.00,158.42 612.25,158.34 612.50,158.19 612.75,157.93 613.00,157.49 613.25,156.76 613.50,155.58 613.75,153.78 614.00,151.10 614.25,147.27 614.50,141.98 614.75,134.96 615.00,126.01 615.25,115.08 615.50,102.28 615.75,88.00 616.00,72.86 616.25,57.73 616.50,43.66 616.75,31.73 617.00,22.95 617.25,18.11 617.50,17.66 617.75,21.64 618.00,29.69 618.25,41.07 618.50,54.80 618.75,69.80 619.00,85.01 619.25,99.53 619.50,112.66 619.75,123.99 620.00,133.33 620.25,140.72 620.50,146.33 620.75,150.44 621.00,153.32 621.25,155.28 621.50,156.56 621.75,157.37 622.00,157.86 622.25,158.15 622.50,158.31 622.75,158.40 623.00,158.45 623.25,158.48 623.50,158.49 623.75,158.50 624.00,158.50 624.25,158.50 624.50,158.50 624.75,158.50 625.00,158.50 625.25,158.50 625.50,158.49 625.75,158.49 626.00,158.48 626.25,158.47 626.50,158.46 626.75,158.44 627.00,158.41 627.25,158.36 627.50,158.29 627.75,158.20 628.00,158.07 628.25,157.90 628.50,157.67 628.75,157.36 629.00,156.97 629.25,156.47 629.50,155.86 629.75,155.11 630.00,154.21 630.25,153.17 630.50,151.97 630.75,150.61 631.00,149.13 631.25,147.53 631.50,145.85 631.75,144.13 632.00,142.41 632.25,140.75 632.50,139.21 632.75,137.82 633.00,136.65 633.25,135.72 633.50,135.08 633.75,134.73 634.00,134.68 634.25,134.92 634.50,135.43 634.75,136.18 635.00,137.14 635.25,138.27 635.50,139.51 635.75,140.84 636.00,142.22 636.25,143.61 636.50,144.99 636.75,146.33 637.00,147.62 637.25,148.84 637.50,149.99 637.75,151.07 638.00,152.06 638.25,152.97 638.50,153.79 638.75,154.53 639.00,155.19 639.25,155.77 639.50,156.27 639.75,156.71 640.00,157.07 640.25,157.38 640.50,157.63 640.75,157.84 641.00,158.00 641.25,158.13 641.50,158.23 641.75,158.30 642.00,158.36 642.25,158.40 642.50,158.43 642.75,158.45 643.00,158.46 643.25,158.47 643.50,158.47 643.75,158.45 644.00,158.42 644.25,158.35 644.50,158.24 644.75,158.05 645.00,157.75 645.25,157.29 645.50,156.62 645.75,155.67 646.00,154.38 646.25,152.72 646.50,150.66 646.75,148.22 647.00,145.47 647.25,142.55 647.50,139.63 647.75,136.93 648.00,134.67 648.25,133.07 648.50,132.27 648.75,132.36 649.00,133.33 649.25,135.08 649.50,137.44 649.75,140.20 650.00,143.14 650.25,146.04 650.50,148.73 650.75,151.10 651.00,153.08 651.25,154.67 651.50,155.88 651.75,156.77 652.00,157.40 652.25,157.82 652.50,158.09 652.75,158.27 653.00,158.37 653.25,158.43 653.50,158.46 653.75,158.48 654.00,158.49 654.25,158.49 654.50,158.49 654.75,158.48 655.00,158.47 655.25,158.45 655.50,158.43 655.75,158.38 656.00,158.32 656.25,158.22 656.50,158.09 656.75,157.92 657.00,157.70 657.25,157.41 657.50,157.07 657.75,156.67 658.00,156.21 658.25,155.72 658.50,155.21 658.75,154.70 659.00,154.22 659.25,153.81 659.50,153.47 659.75,153.24 660.00,153.13 660.25,153.14 660.50,153.26 660.75,153.49 661.00,153.81 661.25,154.20 661.50,154.63 661.75,155.09 662.00,155.55 662.25,155.99 662.50,156.41 662.75,156.79 663.00,157.13 663.25,157.42 663.50,157.67 663.75,157.87 664.00,158.04 664.25,158.17 664.50,158.26 664.75,158.33 665.00,158.38 665.25,158.40 665.50,158.37 665.75,158.27 666.00,158.07 666.25,157.74 666.50,157.30 666.75,156.81 667.00,156.40 667.25,156.20 667.50,156.29 667.75,156.63 668.00,157.10 668.25,157.58 668.50,157.97 668.75,158.23 669.00,158.38 669.25,158.45 669.50,158.48 669.75,158.49 670.00,158.50 670.25,158.49 670.50,158.47 670.75,158.40 671.00,158.22 671.25,157.83 671.50,157.14 671.75,156.16 672.00,155.14 672.25,154.43 672.50,154.36 672.75,154.96 673.00,155.95 673.25,156.96 673.50,157.72 673.75,158.17 674.00,158.38 674.25,158.46 674.50,158.49 674.75,158.48 675.00,158.45 675.25,158.36 675.50,158.20 675.75,157.95 676.00,157.65 676.25,157.40 676.50,157.30 676.75,157.40 677.00,157.65 677.25,157.95 677.50,158.20 677.75,158.36 678.00,158.45 678.25,158.48 678.50,158.50 678.75,158.50 679.00,158.50 679.25,158.50 679.50,158.50 679.75,158.50 680.00,158.50 680.25,158.50 680.50,158.50" fill="none" stroke="#2ad12a" stroke-width="1.1" stroke-linejoin="round" stroke-linecap="round" />
<line x1="519" y1="158.2" x2="540" y2="158.2" stroke="#2ad12a" stroke-width="1" stroke-dasharray="1.5,2.5"/>
<rect x="517.90" y="10.50" width="162.70" height="148.00" fill="none" stroke="#555" stroke-width="1.2" />
<line x1="517.90" y1="158.50" x2="514.60" y2="158.50" stroke="#555" stroke-width="1" />
<text x="514.00" y="162.00" font-size="11.5" text-anchor="end" font-weight="normal" fill="#231f20"  style="">0</text>
<line x1="517.90" y1="128.88" x2="514.60" y2="128.88" stroke="#555" stroke-width="1" />
<text x="514.00" y="132.38" font-size="11.5" text-anchor="end" font-weight="normal" fill="#231f20"  style="">5</text>
<line x1="517.90" y1="99.25" x2="514.60" y2="99.25" stroke="#555" stroke-width="1" />
<text x="514.00" y="102.75" font-size="11.5" text-anchor="end" font-weight="normal" fill="#231f20"  style="">10</text>
<line x1="517.90" y1="69.62" x2="514.60" y2="69.62" stroke="#555" stroke-width="1" />
<text x="514.00" y="73.12" font-size="11.5" text-anchor="end" font-weight="normal" fill="#231f20"  style="">15</text>
<line x1="517.90" y1="40.00" x2="514.60" y2="40.00" stroke="#555" stroke-width="1" />
<text x="514.00" y="43.50" font-size="11.5" text-anchor="end" font-weight="normal" fill="#231f20"  style="">20</text>
<line x1="517.90" y1="10.38" x2="514.60" y2="10.38" stroke="#555" stroke-width="1" />
<text x="514.00" y="15.68" font-size="11.5" text-anchor="end" font-weight="normal" fill="#231f20"  style="">25</text>
<line x1="517.90" y1="143.69" x2="516.10" y2="143.69" stroke="#555" stroke-width="1" />
<line x1="517.90" y1="114.06" x2="516.10" y2="114.06" stroke="#555" stroke-width="1" />
<line x1="517.90" y1="84.44" x2="516.10" y2="84.44" stroke="#555" stroke-width="1" />
<line x1="517.90" y1="54.81" x2="516.10" y2="54.81" stroke="#555" stroke-width="1" />
<line x1="517.90" y1="25.19" x2="516.10" y2="25.19" stroke="#555" stroke-width="1" />
<line x1="517.90" y1="158.50" x2="517.90" y2="162.00" stroke="#555" stroke-width="1" />
<line x1="538.24" y1="158.50" x2="538.24" y2="160.30" stroke="#555" stroke-width="1" />
<line x1="558.58" y1="158.50" x2="558.58" y2="162.00" stroke="#555" stroke-width="1" />
<line x1="578.92" y1="158.50" x2="578.92" y2="160.30" stroke="#555" stroke-width="1" />
<line x1="599.26" y1="158.50" x2="599.26" y2="162.00" stroke="#555" stroke-width="1" />
<line x1="619.60" y1="158.50" x2="619.60" y2="160.30" stroke="#555" stroke-width="1" />
<line x1="639.94" y1="158.50" x2="639.94" y2="162.00" stroke="#555" stroke-width="1" />
<line x1="660.28" y1="158.50" x2="660.28" y2="160.30" stroke="#555" stroke-width="1" />
<line x1="680.62" y1="158.50" x2="680.62" y2="162.00" stroke="#555" stroke-width="1" />
<text x="518.50" y="173.00" font-size="11.5" text-anchor="middle" font-weight="normal" fill="#231f20"  style="">300</text>
<text x="559.18" y="173.00" font-size="11.5" text-anchor="middle" font-weight="normal" fill="#231f20"  style="">400</text>
<text x="599.86" y="173.00" font-size="11.5" text-anchor="middle" font-weight="normal" fill="#231f20"  style="">500</text>
<text x="640.54" y="173.00" font-size="11.5" text-anchor="middle" font-weight="normal" fill="#231f20"  style="">600</text>
<text x="677.12" y="173.00" font-size="11.5" text-anchor="middle" font-weight="normal" fill="#231f20"  style="">700</text>
<text x="603.30" y="188.50" font-size="11.5" text-anchor="middle" font-weight="normal" fill="#231f20"  style="">Wavelength (nm)</text>
<text transform="translate(497.1,85.0) rotate(-90)" font-size="11.56" text-anchor="middle" fill="#231f20">RL intensity (x10<tspan font-size="7.5" dy="-4">3</tspan><tspan dy="4"> arb. units)</tspan></text>
<text x="488.90" y="9.10" font-size="13.5" text-anchor="start" font-weight="bold" fill="#000"  style="">e</text>
<line x1="524.20" y1="19.90" x2="542.00" y2="19.90" stroke="#2ad12a" stroke-width="2.2" />
<text x="543.30" y="24.00" font-size="11.5" text-anchor="start" font-weight="normal" fill="#231f20"  style="">Tb(IL)<tspan font-size="7" dy="3.6">3</tspan></text>
<line x1="524.20" y1="46.70" x2="542.00" y2="46.70" stroke="#1d5b9b" stroke-width="2.2" />
<text x="543.30" y="44.60" font-size="11.5" text-anchor="start" font-weight="normal" fill="#231f20"  style="">PPO</text>
<text x="543.30" y="55.90" font-size="11.5" text-anchor="start" font-weight="normal" fill="#231f20"  style="">@toluene</text>
<line x1="524.20" y1="74.70" x2="542.00" y2="74.70" stroke="#231f20" stroke-width="2.2" />
<text x="545.60" y="73.20" font-size="11.5" text-anchor="start" font-weight="normal" fill="#231f20"  style="">CsPbBr<tspan font-size="7" dy="3.6">3</tspan></text>
<text x="545.60" y="85.20" font-size="11.5" text-anchor="start" font-weight="normal" fill="#231f20"  style="">@toluene</text>
<line x1="529.20" y1="335.30" x2="657.50" y2="227.70" stroke="#22cf22" stroke-width="1.4" />
<line x1="529.20" y1="335.80" x2="657.50" y2="293.40" stroke="#3a86cf" stroke-width="1.4" />
<circle cx="529.2" cy="335.2" r="2.1" fill="#22cf22"/>
<circle cx="533.8" cy="331.9" r="2.1" fill="#22cf22"/>
<circle cx="545.3" cy="322.7" r="2.1" fill="#22cf22"/>
<circle cx="561.6" cy="307.8" r="2.1" fill="#22cf22"/>
<circle cx="577" cy="295.2" r="2.1" fill="#22cf22"/>
<circle cx="593" cy="281.1" r="2.1" fill="#22cf22"/>
<circle cx="609.3" cy="266.6" r="2.1" fill="#22cf22"/>
<circle cx="625.1" cy="253.1" r="2.1" fill="#22cf22"/>
<circle cx="641.2" cy="238.8" r="2.1" fill="#22cf22"/>
<circle cx="657.5" cy="227.7" r="2.1" fill="#22cf22"/>
<circle cx="529.2" cy="335.8" r="2.1" fill="#3a86cf"/>
<circle cx="533.8" cy="334.4" r="2.1" fill="#3a86cf"/>
<circle cx="545.3" cy="330.1" r="2.1" fill="#3a86cf"/>
<circle cx="561.6" cy="325.1" r="2.1" fill="#3a86cf"/>
<circle cx="577" cy="319.9" r="2.1" fill="#3a86cf"/>
<circle cx="593" cy="314.7" r="2.1" fill="#3a86cf"/>
<circle cx="609.3" cy="309.3" r="2.1" fill="#3a86cf"/>
<circle cx="625.1" cy="304.1" r="2.1" fill="#3a86cf"/>
<circle cx="641.2" cy="298" r="2.1" fill="#3a86cf"/>
<circle cx="657.5" cy="293.4" r="2.1" fill="#3a86cf"/>
<rect x="518.00" y="208.10" width="161.00" height="139.90" fill="none" stroke="#555" stroke-width="1.2" />
<line x1="518.00" y1="335.60" x2="514.40" y2="335.60" stroke="#555" stroke-width="1" />
<text x="514.00" y="339.90" font-size="11.5" text-anchor="end" font-weight="normal" fill="#231f20"  style="">0</text>
<line x1="518.00" y1="312.50" x2="514.40" y2="312.50" stroke="#555" stroke-width="1" />
<text x="514.00" y="316.80" font-size="11.5" text-anchor="end" font-weight="normal" fill="#231f20"  style="">5</text>
<line x1="518.00" y1="289.40" x2="514.40" y2="289.40" stroke="#555" stroke-width="1" />
<text x="514.00" y="293.70" font-size="11.5" text-anchor="end" font-weight="normal" fill="#231f20"  style="">10</text>
<line x1="518.00" y1="266.30" x2="514.40" y2="266.30" stroke="#555" stroke-width="1" />
<text x="514.00" y="270.60" font-size="11.5" text-anchor="end" font-weight="normal" fill="#231f20"  style="">15</text>
<line x1="518.00" y1="243.20" x2="514.40" y2="243.20" stroke="#555" stroke-width="1" />
<text x="514.00" y="247.50" font-size="11.5" text-anchor="end" font-weight="normal" fill="#231f20"  style="">20</text>
<line x1="518.00" y1="220.10" x2="514.40" y2="220.10" stroke="#555" stroke-width="1" />
<text x="514.00" y="224.40" font-size="11.5" text-anchor="end" font-weight="normal" fill="#231f20"  style="">25</text>
<line x1="518.00" y1="347.15" x2="516.20" y2="347.15" stroke="#555" stroke-width="1" />
<line x1="518.00" y1="324.05" x2="516.20" y2="324.05" stroke="#555" stroke-width="1" />
<line x1="518.00" y1="300.95" x2="516.20" y2="300.95" stroke="#555" stroke-width="1" />
<line x1="518.00" y1="277.85" x2="516.20" y2="277.85" stroke="#555" stroke-width="1" />
<line x1="518.00" y1="254.75" x2="516.20" y2="254.75" stroke="#555" stroke-width="1" />
<line x1="518.00" y1="231.65" x2="516.20" y2="231.65" stroke="#555" stroke-width="1" />
<line x1="529.20" y1="348.00" x2="529.20" y2="351.50" stroke="#555" stroke-width="1" />
<line x1="540.70" y1="348.00" x2="540.70" y2="349.80" stroke="#555" stroke-width="1" />
<line x1="552.20" y1="348.00" x2="552.20" y2="349.80" stroke="#555" stroke-width="1" />
<line x1="563.70" y1="348.00" x2="563.70" y2="349.80" stroke="#555" stroke-width="1" />
<line x1="575.20" y1="348.00" x2="575.20" y2="351.50" stroke="#555" stroke-width="1" />
<line x1="586.70" y1="348.00" x2="586.70" y2="349.80" stroke="#555" stroke-width="1" />
<line x1="598.20" y1="348.00" x2="598.20" y2="349.80" stroke="#555" stroke-width="1" />
<line x1="609.70" y1="348.00" x2="609.70" y2="349.80" stroke="#555" stroke-width="1" />
<line x1="621.20" y1="348.00" x2="621.20" y2="351.50" stroke="#555" stroke-width="1" />
<line x1="632.70" y1="348.00" x2="632.70" y2="349.80" stroke="#555" stroke-width="1" />
<line x1="644.20" y1="348.00" x2="644.20" y2="349.80" stroke="#555" stroke-width="1" />
<line x1="655.70" y1="348.00" x2="655.70" y2="349.80" stroke="#555" stroke-width="1" />
<line x1="667.20" y1="348.00" x2="667.20" y2="351.50" stroke="#555" stroke-width="1" />
<line x1="678.70" y1="348.00" x2="678.70" y2="349.80" stroke="#555" stroke-width="1" />
<text x="528.40" y="362.40" font-size="11.5" text-anchor="middle" font-weight="normal" fill="#231f20"  style="">0</text>
<text x="574.40" y="362.40" font-size="11.5" text-anchor="middle" font-weight="normal" fill="#231f20"  style="">100</text>
<text x="620.40" y="362.40" font-size="11.5" text-anchor="middle" font-weight="normal" fill="#231f20"  style="">200</text>
<text x="666.40" y="362.40" font-size="11.5" text-anchor="middle" font-weight="normal" fill="#231f20"  style="">300</text>
<text x="536" y="380.3" font-size="11.5" fill="#231f20">X-ray dose rate (<tspan>µ</tspan>Gy<tspan font-size="7.5" dy="2.8">air</tspan><tspan dy="-2.8"> S</tspan><tspan font-size="7.5" dy="-4">-1</tspan><tspan dy="4">)</tspan></text>
<text transform="translate(497.1,280.95) rotate(-90)" font-size="11.56" text-anchor="middle" fill="#231f20">RL Intensity (x10<tspan font-size="7.5" dy="-4">3</tspan><tspan dy="4"> arb. units)</tspan></text>
<text x="489.00" y="198.20" font-size="13.5" text-anchor="start" font-weight="bold" fill="#000"  style="">f</text>
<text x="520.80" y="221.60" font-size="11.5" text-anchor="start" font-weight="normal" fill="#231f20"  style="">Tb(IL)<tspan font-size="7" dy="3.6">3</tspan></text>
<line x1="556.00" y1="218.40" x2="574.20" y2="218.40" stroke="#22cf22" stroke-width="2.2" />
<text x="520.80" y="232.50" font-size="11.5" text-anchor="start" font-weight="normal" fill="#231f20"  style=""><tspan font-style="italic">y</tspan>=84.63<tspan font-style="italic">x</tspan>+54.16</text>
<text x="520.80" y="257.00" font-size="11.5" text-anchor="start" font-weight="normal" fill="#231f20"  style="">PPO@toluene</text>
<line x1="596.30" y1="254.90" x2="614.50" y2="254.90" stroke="#1d5b9b" stroke-width="2.2" />
<text x="520.80" y="268.10" font-size="11.5" text-anchor="start" font-weight="normal" fill="#231f20"  style=""><tspan font-style="italic">y</tspan>=32.55<tspan font-style="italic">x</tspan>+79.95</text>
<rect x="7.00" y="396.80" width="672.00" height="195.80" fill="#f6f8f7" stroke="none" stroke-width="1" />
<text x="-0.50" y="395.20" font-size="13.5" text-anchor="start" font-weight="bold" fill="#000"  style="">d</text>
<line x1="26.50" y1="590.50" x2="26.50" y2="402.00" stroke="#231f20" stroke-width="1.2" />
<polygon points="26.50,397.60 28.70,403.10 26.50,402.55 24.30,403.10" fill="#231f20"/>
<text transform="translate(18.5,480.2) rotate(-90)" font-size="11.5" text-anchor="middle" fill="#231f20">X-ray excitation</text>
<text x="42.30" y="419.30" font-size="11.5" text-anchor="start" font-weight="normal" fill="#231f20"  style="">Secondary X-ray</text>
<line x1="34.90" y1="422.90" x2="472.50" y2="422.90" stroke="#4d4242" stroke-width="1.5" />
<text x="262.50" y="411.30" font-size="11.5" text-anchor="start" font-weight="bold" fill="#231f20"  style="">Dual-channel energy transfer</text>
<text x="36.4" y="449.9" font-size="11.5" font-weight="bold" fill="#231f20">S<tspan font-size="7.5" dy="2.8">1</tspan><tspan dy="-2.8"> : 3.42 eV</tspan></text>
<rect x="34.80" y="457.50" width="156.20" height="23.10" fill="#93c0e2" stroke="none" stroke-width="1" />
<line x1="34.80" y1="466.20" x2="191.00" y2="466.20" stroke="#0a3d96" stroke-width="3.3" />
<text x="36.60" y="498.10" font-size="11.5" text-anchor="start" font-weight="bold" fill="#231f20"  style="">IL ligand</text>
<rect x="501.00" y="488.20" width="155.40" height="14.50" fill="#d3e5db" stroke="none" stroke-width="1" />
<line x1="501.00" y1="492.40" x2="656.40" y2="492.40" stroke="#0a6a32" stroke-width="2.9" />
<text x="650.3" y="485.5" font-size="11.5" font-weight="bold" fill="#231f20" text-anchor="end">T<tspan font-size="7.5" dy="2.8">1</tspan><tspan dy="-2.8"> : 2.73 eV</tspan></text>
<text x="651.70" y="519.90" font-size="11.5" text-anchor="end" font-weight="bold" fill="#231f20"  style="">IL ligand</text>
<line x1="244.40" y1="467.50" x2="449.80" y2="467.50" stroke="#231f20" stroke-width="1.45" />
<line x1="244.40" y1="470.60" x2="449.80" y2="470.60" stroke="#231f20" stroke-width="1.45" />
<line x1="244.40" y1="479.50" x2="449.80" y2="479.50" stroke="#231f20" stroke-width="1.45" />
<line x1="244.40" y1="484.80" x2="449.80" y2="484.80" stroke="#231f20" stroke-width="1.45" />
<line x1="244.40" y1="504.50" x2="450.70" y2="504.50" stroke="#231f20" stroke-width="2.1" />
<line x1="244.40" y1="559.20" x2="450.70" y2="559.20" stroke="#231f20" stroke-width="4.5" />
<polyline points="241.2,465.5 237,465.5 237,485.2 241.2,485.2" fill="none" stroke="#231f20" stroke-width="1.25"/>
<line x1="253.00" y1="557.00" x2="253.00" y2="473.22" stroke="#8f8f8f" stroke-width="1.2" />
<polygon points="253.00,469.30 256.20,474.90 253.00,474.34 249.80,474.90" fill="#8f8f8f"/>
<line x1="260.30" y1="557.00" x2="260.30" y2="475.82" stroke="#8f8f8f" stroke-width="1.2" />
<polygon points="260.30,471.90 263.50,477.50 260.30,476.94 257.10,477.50" fill="#8f8f8f"/>
<line x1="266.50" y1="557.00" x2="266.50" y2="484.92" stroke="#8f8f8f" stroke-width="1.2" />
<polygon points="266.50,481.00 269.70,486.60 266.50,486.04 263.30,486.60" fill="#8f8f8f"/>
<line x1="273.60" y1="557.00" x2="273.60" y2="490.12" stroke="#8f8f8f" stroke-width="1.2" />
<polygon points="273.60,486.20 276.80,491.80 273.60,491.24 270.40,491.80" fill="#8f8f8f"/>
<line x1="441.30" y1="557.00" x2="441.30" y2="509.22" stroke="#8f8f8f" stroke-width="1.2" />
<polygon points="441.30,505.30 444.50,510.90 441.30,510.34 438.10,510.90" fill="#8f8f8f"/>
<line x1="298.00" y1="505.50" x2="298.00" y2="552.25" stroke="#22aa3a" stroke-width="1.6" />
<polygon points="298.00,556.80 294.80,550.30 298.00,550.95 301.20,550.30" fill="#22aa3a"/>
<line x1="358.00" y1="505.50" x2="358.00" y2="552.25" stroke="#22aa3a" stroke-width="1.6" />
<polygon points="358.00,556.80 354.80,550.30 358.00,550.95 361.20,550.30" fill="#22aa3a"/>
<line x1="429.60" y1="505.50" x2="429.60" y2="551.98" stroke="#22aa3a" stroke-width="2.4" />
<polygon points="429.60,557.30 425.20,549.70 429.60,550.46 434.00,549.70" fill="#22aa3a"/>
<text x="226.6" y="508" font-size="12" font-weight="bold" fill="#231f20"><tspan font-size="7" dy="-4.5">5</tspan><tspan dy="4.5">D</tspan><tspan font-size="7.5" dy="4">4</tspan></text>
<text x="226.6" y="563" font-size="12" font-weight="bold" fill="#231f20"><tspan font-size="7" dy="-4.5">7</tspan><tspan dy="4.5">F</tspan><tspan font-size="7.5" dy="4">J</tspan></text>
<circle cx="248.20" cy="566.60" r="3.9" fill="none" stroke="#888" stroke-width="0.65"/>
<text x="248.20" y="569.25" font-size="7.80" text-anchor="middle" fill="#3c3c3c" font-family="Liberation Serif, serif">1</text>
<circle cx="258.50" cy="566.60" r="3.9" fill="none" stroke="#888" stroke-width="0.65"/>
<text x="258.50" y="569.25" font-size="7.80" text-anchor="middle" fill="#3c3c3c" font-family="Liberation Serif, serif">2</text>
<circle cx="268.00" cy="566.60" r="3.9" fill="none" stroke="#888" stroke-width="0.65"/>
<text x="268.00" y="569.25" font-size="7.80" text-anchor="middle" fill="#3c3c3c" font-family="Liberation Serif, serif">3</text>
<circle cx="278.30" cy="566.60" r="3.9" fill="none" stroke="#888" stroke-width="0.65"/>
<text x="278.30" y="569.25" font-size="7.80" text-anchor="middle" fill="#3c3c3c" font-family="Liberation Serif, serif">4</text>
<circle cx="441.40" cy="566.60" r="3.9" fill="none" stroke="#888" stroke-width="0.65"/>
<text x="441.40" y="569.25" font-size="7.80" text-anchor="middle" fill="#3c3c3c" font-family="Liberation Serif, serif">5</text>
<text x="310.6" y="573" font-size="11.5" font-weight="bold" fill="#231f20">Tb<tspan font-size="6.6" dy="-4.2">3+</tspan><tspan dy="4.2"> emitter</tspan></text>
<circle cx="157.50" cy="584.70" r="3.7" fill="none" stroke="#888" stroke-width="0.65"/>
<text x="157.50" y="587.28" font-size="7.60" text-anchor="middle" fill="#3c3c3c" font-family="Liberation Serif, serif">1</text>
<text x="162.50" y="588.0" font-size="8.6" fill="#231f20"><tspan font-size="5" dy="-2.5">7</tspan><tspan dy="2.5">F</tspan><tspan font-size="5" dy="3.9" dx="0.6">6</tspan></text>
<line x1="176.10" y1="585.70" x2="195.46" y2="585.70" stroke="#231f20" stroke-width="1.15" />
<polygon points="199.80,585.70 193.60,588.50 194.22,585.70 193.60,582.90" fill="#231f20"/>
<text x="201.10" y="588.0" font-size="8.6" fill="#231f20"><tspan font-size="5" dy="-2.5">5</tspan><tspan dy="2.5">G</tspan><tspan font-size="5" dy="3.9" dx="0.6">2</tspan></text>
<circle cx="241.20" cy="584.70" r="3.7" fill="none" stroke="#888" stroke-width="0.65"/>
<text x="241.20" y="587.28" font-size="7.60" text-anchor="middle" fill="#3c3c3c" font-family="Liberation Serif, serif">2</text>
<text x="246.20" y="588.0" font-size="8.6" fill="#231f20"><tspan font-size="5" dy="-2.5">7</tspan><tspan dy="2.5">F</tspan><tspan font-size="5" dy="3.9" dx="0.6">6</tspan></text>
<line x1="261.10" y1="585.70" x2="281.86" y2="585.70" stroke="#231f20" stroke-width="1.15" />
<polygon points="286.20,585.70 280.00,588.50 280.62,585.70 280.00,582.90" fill="#231f20"/>
<text x="288.50" y="588.0" font-size="8.6" fill="#231f20"><tspan font-size="5" dy="-2.5">5</tspan><tspan dy="2.5">L</tspan><tspan font-size="5" dy="3.9" dx="0.6">6</tspan></text>
<circle cx="323.40" cy="584.70" r="3.7" fill="none" stroke="#888" stroke-width="0.65"/>
<text x="323.40" y="587.28" font-size="7.60" text-anchor="middle" fill="#3c3c3c" font-family="Liberation Serif, serif">3</text>
<text x="328.40" y="588.0" font-size="8.6" fill="#231f20"><tspan font-size="5" dy="-2.5">7</tspan><tspan dy="2.5">F</tspan><tspan font-size="5" dy="3.9" dx="0.6">6</tspan></text>
<line x1="343.70" y1="585.70" x2="362.66" y2="585.70" stroke="#231f20" stroke-width="1.15" />
<polygon points="367.00,585.70 360.80,588.50 361.42,585.70 360.80,582.90" fill="#231f20"/>
<text x="370.70" y="588.0" font-size="8.6" fill="#231f20"><tspan font-size="5" dy="-2.5">5</tspan><tspan dy="2.5">G</tspan><tspan font-size="5" dy="3.9" dx="0.6">6</tspan></text>
<circle cx="409.50" cy="584.70" r="3.7" fill="none" stroke="#888" stroke-width="0.65"/>
<text x="409.50" y="587.28" font-size="7.60" text-anchor="middle" fill="#3c3c3c" font-family="Liberation Serif, serif">4</text>
<text x="414.50" y="588.0" font-size="8.6" fill="#231f20"><tspan font-size="5" dy="-2.5">7</tspan><tspan dy="2.5">F</tspan><tspan font-size="5" dy="3.9" dx="0.6">6</tspan></text>
<line x1="429.80" y1="585.70" x2="448.76" y2="585.70" stroke="#231f20" stroke-width="1.15" />
<polygon points="453.10,585.70 446.90,588.50 447.52,585.70 446.90,582.90" fill="#231f20"/>
<text x="456.80" y="588.0" font-size="8.6" fill="#231f20"><tspan font-size="5" dy="-2.5">5</tspan><tspan dy="2.5">D</tspan><tspan font-size="5" dy="3.9" dx="0.6">3</tspan></text>
<circle cx="497.20" cy="584.70" r="3.7" fill="none" stroke="#888" stroke-width="0.65"/>
<text x="497.20" y="587.28" font-size="7.60" text-anchor="middle" fill="#3c3c3c" font-family="Liberation Serif, serif">5</text>
<text x="502.20" y="588.0" font-size="8.6" fill="#231f20"><tspan font-size="5" dy="-2.5">7</tspan><tspan dy="2.5">F</tspan><tspan font-size="5" dy="3.9" dx="0.6">6</tspan></text>
<line x1="517.50" y1="585.70" x2="536.46" y2="585.70" stroke="#231f20" stroke-width="1.15" />
<polygon points="540.80,585.70 534.60,588.50 535.22,585.70 534.60,582.90" fill="#231f20"/>
<text x="544.50" y="588.0" font-size="8.6" fill="#231f20"><tspan font-size="5" dy="-2.5">5</tspan><tspan dy="2.5">D</tspan><tspan font-size="5" dy="3.9" dx="0.6">4</tspan></text>
<polyline points="142.10,426.50 141.26,426.80 140.08,427.24 138.70,427.74 137.29,428.24 136.00,428.70 134.79,429.08 133.56,429.43 132.36,429.78 131.25,430.16 130.30,430.60 129.39,431.13 128.48,431.74 127.73,432.36 127.32,432.97 127.40,433.50 128.13,433.95 129.40,434.34 130.98,434.70 132.63,435.04 134.10,435.40 135.51,435.76 137.00,436.10 138.44,436.44 139.65,436.80 140.50,437.20 140.97,437.65 141.17,438.15 141.10,438.65 140.78,439.15 140.20,439.60 139.26,439.99 137.94,440.33 136.42,440.67 134.88,441.01 133.50,441.40 132.12,441.84 130.64,442.31 129.26,442.80 128.21,443.30 127.70,443.80 127.86,444.33 128.55,444.88 129.58,445.44 130.76,445.95 131.90,446.40 133.07,446.75 134.39,447.01 135.77,447.25 137.11,447.49 138.30,447.80 139.48,448.17 140.72,448.56 141.81,448.98 142.57,449.43 142.80,449.90 142.30,450.43 141.21,451.02 139.82,451.61 138.42,452.16 137.30,452.60 136.45,452.92 135.66,453.17 134.98,453.35 134.41,453.49 134.00,453.60" stroke-dasharray="2.8,2.2" fill="none" stroke="#231f20" stroke-width="1.15"/>
<polygon points="130.6,451.2 127.8,456 133.9,456" fill="#231f20"/>
<polyline points="362.50,426.70 361.88,427.07 361.03,427.60 360.01,428.21 358.91,428.84 357.80,429.40 356.61,429.89 355.30,430.35 353.96,430.81 352.69,431.29 351.60,431.80 350.59,432.35 349.59,432.91 348.75,433.51 348.21,434.13 348.10,434.80 348.55,435.55 349.47,436.38 350.67,437.23 351.97,438.02 353.20,438.70 354.48,439.21 355.94,439.59 357.37,439.93 358.59,440.31 359.40,440.80 359.77,441.46 359.82,442.23 359.62,443.04 359.19,443.82 358.60,444.50 357.73,445.05 356.55,445.52 355.22,445.96 353.92,446.40 352.80,446.90 351.75,447.47 350.66,448.07 349.70,448.69 349.05,449.31 348.90,449.90 349.37,450.48 350.33,451.06 351.61,451.63 352.99,452.15 354.30,452.60 355.59,452.95 356.98,453.20 358.40,453.42 359.73,453.67 360.90,454.00 362.00,454.41 363.10,454.87 364.04,455.38 364.66,455.92 364.80,456.50 364.26,457.18 363.14,457.95 361.75,458.73 360.40,459.44 359.40,460.00 358.77,460.38 358.30,460.63 357.96,460.79 357.70,460.90 357.50,461.00" stroke-dasharray="2.8,2.2" fill="none" stroke="#231f20" stroke-width="1.15"/>
<polygon points="352.8,458.8 350.2,464.3 357,463.2" fill="#231f20"/>
<polyline points="370.40,470.30 369.39,470.66 367.96,471.17 366.29,471.76 364.58,472.39 363.00,473.00 361.35,473.61 359.50,474.24 357.78,474.89 356.47,475.52 355.90,476.10 356.25,476.63 357.32,477.14 358.82,477.62 360.47,478.07 362.00,478.50 363.65,478.87 365.61,479.19 367.51,479.50 368.96,479.85 369.60,480.30 369.19,480.86 367.99,481.49 366.34,482.17 364.56,482.88 363.00,483.60 361.44,484.34 359.64,485.12 357.95,485.91 356.69,486.68 356.20,487.40 356.66,488.07 357.84,488.71 359.48,489.32 361.29,489.92 363.00,490.50 364.86,491.07 367.05,491.62 369.20,492.16 370.91,492.69 371.80,493.20 371.56,493.74 370.44,494.30 368.92,494.83 367.45,495.28 366.50,495.60" stroke-dasharray="2.8,2.2" fill="none" stroke="#231f20" stroke-width="1.15"/>
<polygon points="360.6,493.7 357.1,499.8 364.1,499.8" fill="#231f20"/>
<polyline points="283.10,467.90 282.90,468.67 282.62,469.77 282.28,471.03 281.90,472.33 281.50,473.50 280.95,474.57 280.25,475.64 279.58,476.67 279.10,477.64 279.00,478.50 279.37,479.31 280.08,480.10 281.02,480.78 282.03,481.27 283.00,481.50 283.93,481.37 284.92,480.93 285.94,480.32 286.97,479.70 288.00,479.20 289.11,478.78 290.30,478.34 291.46,477.95 292.47,477.68 293.20,477.60 293.61,477.73 293.77,478.04 293.77,478.47 293.65,478.97 293.50,479.50 293.29,480.05 292.97,480.65 292.59,481.31 292.15,482.03 291.70,482.80 291.20,483.63 290.62,484.53 290.03,485.48 289.47,486.47 289.00,487.50 288.54,488.69 288.07,490.04 287.68,491.37 287.49,492.49 287.60,493.20 288.10,493.43 288.91,493.30 289.92,492.94 290.99,492.47 292.00,492.00 292.95,491.49 293.91,490.86 294.90,490.18 295.93,489.53 297.00,489.00 298.22,488.53 299.59,488.08 300.95,487.70 302.14,487.49 303.00,487.50 303.50,487.79 303.74,488.30 303.78,488.98 303.68,489.73 303.50,490.50 303.18,491.34 302.67,492.29 302.07,493.27 301.48,494.20 301.00,495.00 300.61,495.67 300.26,496.26 299.94,496.78 299.69,497.19 299.50,497.50" stroke-dasharray="2.8,2.2" fill="none" stroke="#231f20" stroke-width="1.15"/>
<polygon points="298.6,503.3 295.4,497 301.8,497" fill="#231f20"/>
<polyline points="192.40,459.00 193.06,457.29 193.97,454.84 195.27,452.10 197.10,449.50 199.53,447.04 202.49,444.52 205.85,442.11 209.50,440.00 213.43,438.22 217.70,436.69 222.29,435.37 227.20,434.20 232.68,433.19 238.64,432.36 244.59,431.69 250.00,431.20 254.52,430.90 258.49,430.79 262.46,430.81 267.00,430.90 272.16,431.04 277.69,431.27 283.62,431.59 290.00,432.00 297.04,432.49 304.64,433.06 312.43,433.73 320.00,434.50 327.57,435.44 335.24,436.52 342.47,437.62 348.70,438.60 353.31,439.34 356.74,439.95 360.08,440.61 364.40,441.50 370.12,442.71 376.62,444.14 383.41,445.67 390.00,447.20 396.29,448.73 402.54,450.31 408.76,451.90 415.00,453.50 421.13,455.03 427.19,456.53 433.40,458.11 440.00,459.90 447.27,462.00 455.00,464.32 462.73,466.70 470.00,469.00 476.84,471.23 483.44,473.46 489.57,475.59 495.00,477.50 499.80,479.26 504.06,480.88 507.54,482.24 510.00,483.20" fill="none" stroke="#231f20" stroke-width="1.15" stroke-dasharray="3.3,2.4"/>
<polygon points="514.90,485.00 506.70,486.41 508.69,482.86 509.30,478.84" fill="#231f20"/>
<text transform="translate(193.6,441.8) rotate(-42)" font-size="11.5" text-anchor="middle" dy="4" fill="#231f20"><tspan dy="4">ISC</tspan></text>
<text transform="translate(214,463.1) rotate(10)" font-size="11.5" text-anchor="middle" font-weight="bold" font-style="italic" fill="#231f20"><tspan dy="4">Singlet</tspan></text>
<line x1="191.80" y1="466.40" x2="229.10" y2="473.37" stroke="#231f20" stroke-width="1.5" />
<polygon points="234.60,474.40 226.09,476.37 227.52,473.08 227.38,469.49" fill="#231f20"/>
<line x1="497.20" y1="494.00" x2="461.24" y2="500.14" stroke="#231f20" stroke-width="1.3" stroke-dasharray="3.3,2.4"/>
<polygon points="456.20,501.00 462.72,495.83 462.68,499.89 464.07,503.71" fill="#231f20"/>
<text transform="translate(480,509.3) rotate(-10)" font-size="11.5" text-anchor="middle" font-weight="bold" fill="#231f20"><tspan dy="4">Triplet</tspan></text>
</svg>
</body></html>
